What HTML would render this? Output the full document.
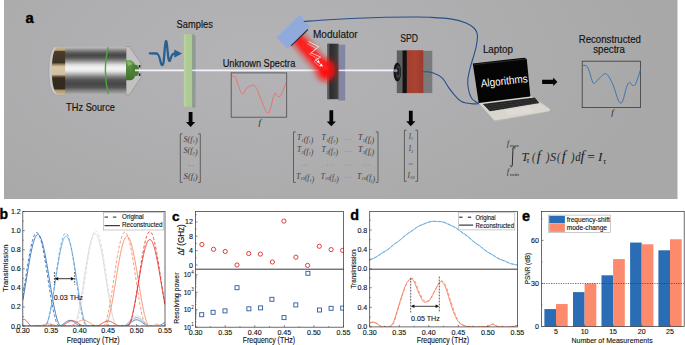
<!DOCTYPE html>
<html><head><meta charset="utf-8"><style>
html,body{margin:0;padding:0;background:#fff;}
body{width:685px;height:345px;overflow:hidden;font-family:"Liberation Sans", sans-serif;}
svg{display:block;}
</style></head><body>
<svg width="685" height="345" viewBox="0 0 685 345">
<defs>
<radialGradient id="bg" cx="260" cy="60" r="400" gradientUnits="userSpaceOnUse" gradientTransform="translate(260 60) scale(1 0.5) translate(-260 -60)">
 <stop offset="0" stop-color="#b4b4b7"/>
 <stop offset="0.45" stop-color="#afafb1"/>
 <stop offset="1" stop-color="#a8a8a8"/>
</radialGradient>
<linearGradient id="silver" x1="0" y1="0" x2="0" y2="1">
 <stop offset="0" stop-color="#c0c0c0"/>
 <stop offset="0.036" stop-color="#a8a8a8"/>
 <stop offset="0.088" stop-color="#7a7a7a"/>
 <stop offset="0.141" stop-color="#545454"/>
 <stop offset="0.183" stop-color="#4a4a4a"/>
 <stop offset="0.225" stop-color="#555555"/>
 <stop offset="0.277" stop-color="#7c7c7c"/>
 <stop offset="0.33" stop-color="#b0b0b0"/>
 <stop offset="0.382" stop-color="#e0e0e0"/>
 <stop offset="0.445" stop-color="#f4f4f4"/>
 <stop offset="0.508" stop-color="#e8e8e8"/>
 <stop offset="0.571" stop-color="#b4b4b4"/>
 <stop offset="0.634" stop-color="#7c7c7c"/>
 <stop offset="0.697" stop-color="#555555"/>
 <stop offset="0.782" stop-color="#464646"/>
 <stop offset="0.855" stop-color="#555555"/>
 <stop offset="0.918" stop-color="#808080"/>
 <stop offset="1" stop-color="#b0b0b0"/>
</linearGradient>
<linearGradient id="gold" x1="0" y1="0" x2="0" y2="1">
 <stop offset="0" stop-color="#cdb48a"/>
 <stop offset="0.07" stop-color="#c0a67c"/>
 <stop offset="0.1" stop-color="#4a3c2a"/>
 <stop offset="0.33" stop-color="#3e3222"/>
 <stop offset="0.38" stop-color="#a89470"/>
 <stop offset="0.42" stop-color="#d8c8a8"/>
 <stop offset="0.58" stop-color="#d0c0a0"/>
 <stop offset="0.63" stop-color="#5a4a36"/>
 <stop offset="0.66" stop-color="#352a1e"/>
 <stop offset="0.88" stop-color="#352a1e"/>
 <stop offset="0.92" stop-color="#b09a74"/>
 <stop offset="1" stop-color="#cdb48a"/>
</linearGradient>
<linearGradient id="cone" x1="0" y1="0" x2="0" y2="1">
 <stop offset="0" stop-color="#c8c8c8"/>
 <stop offset="0.5" stop-color="#d8d8d8"/>
 <stop offset="1" stop-color="#b4b4b4"/>
</linearGradient>
<linearGradient id="gtip" x1="0" y1="0" x2="0" y2="1">
 <stop offset="0" stop-color="#6a9c50"/>
 <stop offset="0.5" stop-color="#4f8738"/>
 <stop offset="1" stop-color="#3e6e2a"/>
</linearGradient>
<linearGradient id="modg" x1="0" y1="0" x2="1" y2="0">
 <stop offset="0" stop-color="#505050"/>
 <stop offset="0.25" stop-color="#2c2c2c"/>
 <stop offset="0.7" stop-color="#383838"/>
 <stop offset="1" stop-color="#484848"/>
</linearGradient>
<linearGradient id="spdr" x1="0" y1="0" x2="1" y2="0">
 <stop offset="0" stop-color="#a23d2e"/>
 <stop offset="0.5" stop-color="#aa4332"/>
 <stop offset="1" stop-color="#9e3a2c"/>
</linearGradient>
<filter id="blur1" x="-50%" y="-50%" width="200%" height="200%"><feGaussianBlur stdDeviation="1"/></filter>
<filter id="blur2" x="-50%" y="-50%" width="200%" height="200%"><feGaussianBlur stdDeviation="2"/></filter>
<filter id="blur3" x="-50%" y="-50%" width="200%" height="200%"><feGaussianBlur stdDeviation="3.2"/></filter>
<filter id="blur05" x="-50%" y="-50%" width="200%" height="200%"><feGaussianBlur stdDeviation="0.5"/></filter>
<radialGradient id="redglow" cx="0.5" cy="0.5" r="0.5">
 <stop offset="0" stop-color="#ff1010" stop-opacity="1"/>
 <stop offset="0.5" stop-color="#ff2020" stop-opacity="0.85"/>
 <stop offset="1" stop-color="#ff3030" stop-opacity="0"/>
</radialGradient>
</defs>
<rect x="4" y="0" width="673.5" height="199" fill="url(#bg)"/>
<text x="25.5" y="22.8" font-size="14.8" text-anchor="start" font-weight="bold" font-style="normal" fill="#000" font-family='"Liberation Sans", sans-serif' stroke="#000" stroke-width="0.4">a</text>
<path d="M126,46.5 L129.3,46.5 L140.9,63.1 L140.9,77.6 L129.3,94.8 L126,94.8 Z" fill="#c2c2c2" stroke="#7c7c7c" stroke-width="0.45"/>
<path d="M64.5,46.3 L56,46.3 C50.5,47.5 48.9,60 48.9,70.6 C48.9,81 50.5,93.6 56,94.9 L64.5,94.9 Z" fill="#c9c9c9" stroke="#8c8c8c" stroke-width="0.4"/>
<rect x="64" y="46.8" width="62.2" height="47.6" fill="url(#silver)"/>
<path d="M65.1,46.8 L58,46.8 C53.2,48.5 51.8,60 51.8,70.6 C51.8,81 53.2,92.7 58,94.4 L65.1,94.4 Z" fill="url(#gold)"/>
<path d="M108.3,47.2 C106.2,55 105.4,63 105.4,70.6 C105.4,78 106.2,86 108.3,94.2" fill="none" stroke="#4aa83a" stroke-width="1.4"/>
<path d="M126,60.2 L130.5,60.2 C133,60.8 134.6,63 135,65 L135,76 C134.6,78 133,80 130.5,80.3 L126,80.3 Z" fill="url(#gtip)"/>
<path d="M132.5,64.8 L136.5,64.8 C138,65.5 139,67.5 139,70.5 C139,73.5 138,75.5 136.5,76.1 L132.5,76.1 Z" fill="#4a7e34"/>
<path d="M127,61.5 C129,61 131.5,62 132.5,64 L128,66 Z" fill="#8cc070" opacity="0.8"/>
<rect x="138.8" y="65" width="1.5" height="2.6" fill="#1a2030"/>
<rect x="138.8" y="73.4" width="1.5" height="2.6" fill="#1a2030"/>
<line x1="135" y1="70.4" x2="396" y2="70.4" stroke="#c8ccf0" stroke-width="3.4" opacity="0.7" filter="url(#blur05)"/>
<line x1="135" y1="70.4" x2="396" y2="70.4" stroke="#f2f3ff" stroke-width="1.7"/>
<text x="66.1" y="111" font-size="10.5" text-anchor="start" font-weight="normal" font-style="normal" fill="#111" font-family='"Liberation Sans", sans-serif' textLength="48.9" lengthAdjust="spacingAndGlyphs" stroke="#111" stroke-width="0.15">THz Source</text>
<path d="M149.8,53.3 L157,53.5 C158.5,54 159.8,58 160.8,62.5 C161.6,66 162.8,66.2 163.6,62 C164.4,56 164.9,42 165.9,41 C166.9,40.5 167.4,50 168.2,57 C168.8,61.5 169.6,62.2 170.5,59 C171.3,56 172,54 174,53.6 L177,53.6" fill="none" stroke="#2a5f94" stroke-width="2.3" stroke-linejoin="round" stroke-linecap="round"/>
<path d="M174.3,49.6 L182,53.6 L174.3,57.8 Z" fill="#2a5f94"/>
<polygon points="191.9,34.3 194,34.6 195.3,35.8 195.3,107.6 193,107.8 191.9,106.7" fill="#90a086"/>
<rect x="194.4" y="35.8" width="0.9" height="71.8" fill="#8a94a8"/>
<rect x="183.9" y="34.3" width="8" height="72.4" fill="#afcb95"/>
<rect x="183.9" y="34.3" width="2" height="72.4" fill="#b8d2a0"/>
<line x1="192.2" y1="70.4" x2="196" y2="70.4" stroke="#eef0ff" stroke-width="1.5"/>
<text x="176.6" y="28.1" font-size="10.6" text-anchor="start" font-weight="normal" font-style="normal" fill="#111" font-family='"Liberation Sans", sans-serif' textLength="36.2" lengthAdjust="spacingAndGlyphs" stroke="#111" stroke-width="0.15">Samples</text>
<text x="222.7" y="66.7" font-size="10.4" text-anchor="start" font-weight="normal" font-style="normal" fill="#111" font-family='"Liberation Sans", sans-serif' textLength="72.6" lengthAdjust="spacingAndGlyphs" stroke="#111" stroke-width="0.15">Unknown Spectra</text>
<rect x="231.2" y="72.9" width="55.5" height="44.3" fill="none" stroke="#4a4a4a" stroke-width="0.8"/>
<path d="M232.26,76.32 C232.77,76.49 234.29,75.81 235.30,77.34 C236.32,78.86 237.17,82.68 238.35,85.46 C239.53,88.23 241.06,93.48 242.41,93.98 C243.76,94.49 245.12,89.86 246.47,88.50 C247.83,87.15 249.35,86.44 250.53,85.86 C251.72,85.29 252.56,84.61 253.58,85.05 C254.59,85.49 255.44,86.24 256.62,88.50 C257.81,90.77 259.33,95.27 260.69,98.65 C262.04,102.04 263.63,106.44 264.75,108.81 C265.86,111.18 266.47,112.70 267.39,112.87 C268.30,113.04 269.31,112.19 270.23,109.82 C271.14,107.45 272.09,101.43 272.87,98.65 C273.65,95.88 274.22,93.68 274.90,93.17 C275.58,92.66 276.08,95.03 276.93,95.61 C277.77,96.18 278.96,97.47 279.97,96.62 C280.99,95.78 282.01,92.90 283.02,90.53 C284.04,88.16 285.56,83.76 286.07,82.41" fill="none" stroke="#f06a6a" stroke-width="0.9"/>
<text x="259.7" y="124.5" font-size="9" text-anchor="middle" font-weight="normal" font-style="italic" fill="#222" font-family='"Liberation Serif", serif' >f</text>
<rect x="338.4" y="44.7" width="6.8" height="55.8" fill="#7e82a0" opacity="0.9"/>
<rect x="327.4" y="43.7" width="11.2" height="55.5" fill="url(#modg)"/>
<rect x="327.4" y="43.7" width="1.8" height="55.5" fill="#5c5c5c"/>
<line x1="338.6" y1="70.4" x2="346" y2="70.4" stroke="#eef0ff" stroke-width="1.5"/>
<g filter="url(#blur3)"><line x1="298" y1="39" x2="324" y2="69" stroke="#ff1818" stroke-width="13" stroke-linecap="round"/><ellipse cx="326" cy="70" rx="9.5" ry="11" fill="#ff1010"/></g>
<g filter="url(#blur1)"><line x1="304" y1="45" x2="325" y2="68" stroke="#ff2020" stroke-width="6" stroke-linecap="round"/></g>
<path d="M308.5,41.5 L318.9,46.7 L311.1,52.8 L320.7,57.2 L315.4,59.8 L322.4,65.9" fill="none" stroke="#ffffff" stroke-width="0.7" stroke-linejoin="miter"/>
<path d="M307,43.5 L316.5,48.5 L309.5,54 L318.5,59 L314,61.5 L320.5,67" fill="none" stroke="#ffecec" stroke-width="0.55" opacity="0.9"/>
<path d="M322.9,66.6 L319.4,65.9 L321.6,63.4 Z M319.8,62.6 L316.8,62.2 L318.6,59.9 Z" fill="#fff"/>
<polygon points="299.4,15 310.3,26.5 287.4,49.1 276.5,37.6" fill="#90aadc"/>
<line x1="307.9" y1="29.5" x2="291.1" y2="45.8" stroke="#2a2f38" stroke-width="1.1"/>
<text x="313" y="38.0" font-size="10.6" text-anchor="start" font-weight="normal" font-style="normal" fill="#111" font-family='"Liberation Sans", sans-serif' textLength="44.7" lengthAdjust="spacingAndGlyphs" stroke="#111" stroke-width="0.15">Modulator</text>
<rect x="423" y="50.8" width="9.3" height="42.3" fill="#7a7a7c"/>
<rect x="396.8" y="50.4" width="5.8" height="42.7" fill="#606060"/>
<rect x="402.4" y="50.4" width="4.6" height="42.7" fill="#121212"/>
<rect x="406.8" y="50.2" width="16.5" height="42.9" fill="url(#spdr)"/>
<ellipse cx="397.3" cy="72" rx="3.8" ry="9.6" fill="#141414"/>
<ellipse cx="398.2" cy="72" rx="2.4" ry="6.8" fill="#3a3a3e"/>
<ellipse cx="397.8" cy="71.5" rx="1.4" ry="3.8" fill="#1a1a22"/>
<ellipse cx="395.5" cy="70.6" rx="2.2" ry="1.6" fill="#c8d0ff" opacity="0.6" filter="url(#blur05)"/>
<text x="400.3" y="41.8" font-size="10.2" text-anchor="start" font-weight="normal" font-style="normal" fill="#111" font-family='"Liberation Sans", sans-serif' textLength="17.7" lengthAdjust="spacingAndGlyphs" stroke="#111" stroke-width="0.15">SPD</text>
<path d="M303.80,21.50 C307.92,21.22 319.63,20.33 328.50,19.80 C337.37,19.27 347.52,18.72 357.00,18.30 C366.48,17.88 375.92,17.52 385.40,17.30 C394.88,17.08 406.47,17.00 413.90,17.00 C421.33,17.00 423.65,16.95 430.00,17.30 C436.35,17.65 446.00,18.15 452.00,19.10 C458.00,20.05 462.25,21.43 466.00,23.00 C469.75,24.57 472.60,26.50 474.50,28.50 C476.40,30.50 477.07,32.25 477.40,35.00 C477.73,37.75 477.03,41.80 476.50,45.00 C475.97,48.20 475.22,50.53 474.20,54.20 C473.18,57.87 471.47,62.75 470.40,67.00 C469.33,71.25 468.10,75.87 467.80,79.70 C467.50,83.53 467.98,86.95 468.60,90.00 C469.22,93.05 470.27,96.00 471.50,98.00 C472.73,100.00 474.67,101.07 476.00,102.00 C477.33,102.93 478.92,103.33 479.50,103.60" fill="none" stroke="#26508a" stroke-width="1.1"/>
<path d="M423.20,71.70 C424.78,71.87 429.52,71.63 432.70,72.70 C435.88,73.77 439.63,75.62 442.30,78.10 C444.97,80.58 446.58,84.68 448.70,87.60 C450.82,90.52 452.88,93.30 455.00,95.60 C457.12,97.90 458.73,100.07 461.40,101.40 C464.07,102.73 467.98,103.20 471.00,103.60 C474.02,104.00 478.08,103.77 479.50,103.80" fill="none" stroke="#26508a" stroke-width="1.1"/>
<path d="M188.7,111.9 L192.5,111.9 L192.5,122.0 L195.2,122.0 L190.6,126.9 L186.0,122.0 L188.7,122.0 Z" fill="#050505"/>
<path d="M329.40000000000003,110.3 L333.2,110.3 L333.2,121.39999999999999 L335.90000000000003,121.39999999999999 L331.3,126.3 L326.7,121.39999999999999 L329.40000000000003,121.39999999999999 Z" fill="#050505"/>
<path d="M408.90000000000003,110.8 L412.7,110.8 L412.7,121.3 L415.40000000000003,121.3 L410.8,126.2 L406.2,121.3 L408.90000000000003,121.3 Z" fill="#050505"/>
<path d="M182.5,133.9 L180.3,133.9 L180.3,182.4 L182.5,182.4 M198.10000000000002,133.9 L200.3,133.9 L200.3,182.4 L198.10000000000002,182.4" fill="none" stroke="#4a4a4a" stroke-width="0.8" stroke-linejoin="miter" stroke-linecap="butt"/>
<text x="190.60" y="141.50" text-anchor="middle" font-style="italic" fill="#3c3c3c" font-family='"Liberation Serif", serif' textLength="14" lengthAdjust="spacingAndGlyphs"><tspan font-size="7.6">S(f</tspan><tspan font-size="4.71" dy="1.52">1</tspan><tspan dy="-1.52"></tspan><tspan font-size="7.6">)</tspan></text>
<text x="190.60" y="153.30" text-anchor="middle" font-style="italic" fill="#3c3c3c" font-family='"Liberation Serif", serif' textLength="14" lengthAdjust="spacingAndGlyphs"><tspan font-size="7.6">S(f</tspan><tspan font-size="4.71" dy="1.52">2</tspan><tspan dy="-1.52"></tspan><tspan font-size="7.6">)</tspan></text>
<text x="190.60" y="178.50" text-anchor="middle" font-style="italic" fill="#3c3c3c" font-family='"Liberation Serif", serif' textLength="14" lengthAdjust="spacingAndGlyphs"><tspan font-size="7.6">S(f</tspan><tspan font-size="4.71" dy="1.52">j</tspan><tspan dy="-1.52"></tspan><tspan font-size="7.6">)</tspan></text>
<circle cx="188.20" cy="165.60" r="0.32" fill="#3c3c3c"/><circle cx="190.60" cy="165.60" r="0.32" fill="#3c3c3c"/><circle cx="193.00" cy="165.60" r="0.32" fill="#3c3c3c"/>
<path d="M295.7,131.9 L293.5,131.9 L293.5,182.4 L295.7,182.4 M375.8,131.9 L378,131.9 L378,182.4 L375.8,182.4" fill="none" stroke="#4a4a4a" stroke-width="0.8" stroke-linejoin="miter" stroke-linecap="butt"/>
<text x="305.20" y="140.20" text-anchor="middle" font-style="italic" fill="#3c3c3c" font-family='"Liberation Serif", serif' textLength="16.4" lengthAdjust="spacingAndGlyphs"><tspan font-size="7.8">T</tspan><tspan font-size="4.84" dy="1.56">1</tspan><tspan dy="-1.56"></tspan><tspan font-size="7.8">(f</tspan><tspan font-size="4.84" dy="1.56">1</tspan><tspan dy="-1.56"></tspan><tspan font-size="7.8">)</tspan></text>
<text x="329.80" y="140.20" text-anchor="middle" font-style="italic" fill="#3c3c3c" font-family='"Liberation Serif", serif' textLength="16.4" lengthAdjust="spacingAndGlyphs"><tspan font-size="7.8">T</tspan><tspan font-size="4.84" dy="1.56">1</tspan><tspan dy="-1.56"></tspan><tspan font-size="7.8">(f</tspan><tspan font-size="4.84" dy="1.56">2</tspan><tspan dy="-1.56"></tspan><tspan font-size="7.8">)</tspan></text>
<circle cx="345.40" cy="139.40" r="0.32" fill="#3c3c3c"/><circle cx="348.20" cy="139.40" r="0.32" fill="#3c3c3c"/><circle cx="351.00" cy="139.40" r="0.32" fill="#3c3c3c"/>
<text x="366.10" y="140.20" text-anchor="middle" font-style="italic" fill="#3c3c3c" font-family='"Liberation Serif", serif' textLength="16.4" lengthAdjust="spacingAndGlyphs"><tspan font-size="7.8">T</tspan><tspan font-size="4.84" dy="1.56">1</tspan><tspan dy="-1.56"></tspan><tspan font-size="7.8">(f</tspan><tspan font-size="4.84" dy="1.56">j</tspan><tspan dy="-1.56"></tspan><tspan font-size="7.8">)</tspan></text>
<text x="305.20" y="152.30" text-anchor="middle" font-style="italic" fill="#3c3c3c" font-family='"Liberation Serif", serif' textLength="16.4" lengthAdjust="spacingAndGlyphs"><tspan font-size="7.8">T</tspan><tspan font-size="4.84" dy="1.56">2</tspan><tspan dy="-1.56"></tspan><tspan font-size="7.8">(f</tspan><tspan font-size="4.84" dy="1.56">1</tspan><tspan dy="-1.56"></tspan><tspan font-size="7.8">)</tspan></text>
<text x="329.80" y="152.30" text-anchor="middle" font-style="italic" fill="#3c3c3c" font-family='"Liberation Serif", serif' textLength="16.4" lengthAdjust="spacingAndGlyphs"><tspan font-size="7.8">T</tspan><tspan font-size="4.84" dy="1.56">2</tspan><tspan dy="-1.56"></tspan><tspan font-size="7.8">(f</tspan><tspan font-size="4.84" dy="1.56">2</tspan><tspan dy="-1.56"></tspan><tspan font-size="7.8">)</tspan></text>
<circle cx="345.40" cy="151.50" r="0.32" fill="#3c3c3c"/><circle cx="348.20" cy="151.50" r="0.32" fill="#3c3c3c"/><circle cx="351.00" cy="151.50" r="0.32" fill="#3c3c3c"/>
<text x="366.10" y="152.30" text-anchor="middle" font-style="italic" fill="#3c3c3c" font-family='"Liberation Serif", serif' textLength="16.4" lengthAdjust="spacingAndGlyphs"><tspan font-size="7.8">T</tspan><tspan font-size="4.84" dy="1.56">2</tspan><tspan dy="-1.56"></tspan><tspan font-size="7.8">(f</tspan><tspan font-size="4.84" dy="1.56">j</tspan><tspan dy="-1.56"></tspan><tspan font-size="7.8">)</tspan></text>
<text x="305.20" y="178.50" text-anchor="middle" font-style="italic" fill="#3c3c3c" font-family='"Liberation Serif", serif' textLength="18" lengthAdjust="spacingAndGlyphs"><tspan font-size="7.8">T</tspan><tspan font-size="4.84" dy="1.56">10</tspan><tspan dy="-1.56"></tspan><tspan font-size="7.8">(f</tspan><tspan font-size="4.84" dy="1.56">1</tspan><tspan dy="-1.56"></tspan><tspan font-size="7.8">)</tspan></text>
<text x="329.80" y="178.50" text-anchor="middle" font-style="italic" fill="#3c3c3c" font-family='"Liberation Serif", serif' textLength="18" lengthAdjust="spacingAndGlyphs"><tspan font-size="7.8">T</tspan><tspan font-size="4.84" dy="1.56">10</tspan><tspan dy="-1.56"></tspan><tspan font-size="7.8">(f</tspan><tspan font-size="4.84" dy="1.56">2</tspan><tspan dy="-1.56"></tspan><tspan font-size="7.8">)</tspan></text>
<circle cx="345.40" cy="177.70" r="0.32" fill="#3c3c3c"/><circle cx="348.20" cy="177.70" r="0.32" fill="#3c3c3c"/><circle cx="351.00" cy="177.70" r="0.32" fill="#3c3c3c"/>
<text x="366.10" y="178.50" text-anchor="middle" font-style="italic" fill="#3c3c3c" font-family='"Liberation Serif", serif' textLength="18" lengthAdjust="spacingAndGlyphs"><tspan font-size="7.8">T</tspan><tspan font-size="4.84" dy="1.56">10</tspan><tspan dy="-1.56"></tspan><tspan font-size="7.8">(f</tspan><tspan font-size="4.84" dy="1.56">j</tspan><tspan dy="-1.56"></tspan><tspan font-size="7.8">)</tspan></text>
<circle cx="302.80" cy="165.00" r="0.32" fill="#3c3c3c"/><circle cx="305.20" cy="165.00" r="0.32" fill="#3c3c3c"/><circle cx="307.60" cy="165.00" r="0.32" fill="#3c3c3c"/>
<circle cx="327.40" cy="165.00" r="0.32" fill="#3c3c3c"/><circle cx="329.80" cy="165.00" r="0.32" fill="#3c3c3c"/><circle cx="332.20" cy="165.00" r="0.32" fill="#3c3c3c"/>
<circle cx="345.80" cy="165.00" r="0.32" fill="#3c3c3c"/><circle cx="348.20" cy="165.00" r="0.32" fill="#3c3c3c"/><circle cx="350.60" cy="165.00" r="0.32" fill="#3c3c3c"/>
<circle cx="363.70" cy="165.00" r="0.32" fill="#3c3c3c"/><circle cx="366.10" cy="165.00" r="0.32" fill="#3c3c3c"/><circle cx="368.50" cy="165.00" r="0.32" fill="#3c3c3c"/>
<path d="M406.59999999999997,130.2 L404.4,130.2 L404.4,181.3 L406.59999999999997,181.3 M415.40000000000003,130.2 L417.6,130.2 L417.6,181.3 L415.40000000000003,181.3" fill="none" stroke="#4a4a4a" stroke-width="0.8" stroke-linejoin="miter" stroke-linecap="butt"/>
<text x="411.00" y="138.90" text-anchor="middle" font-style="italic" fill="#3c3c3c" font-family='"Liberation Serif", serif' textLength="4.4" lengthAdjust="spacingAndGlyphs"><tspan font-size="7.6">I</tspan><tspan font-size="4.71" dy="1.52">1</tspan><tspan dy="-1.52"></tspan></text>
<text x="411.00" y="151.00" text-anchor="middle" font-style="italic" fill="#3c3c3c" font-family='"Liberation Serif", serif' textLength="4.4" lengthAdjust="spacingAndGlyphs"><tspan font-size="7.6">I</tspan><tspan font-size="4.71" dy="1.52">2</tspan><tspan dy="-1.52"></tspan></text>
<text x="411.00" y="177.90" text-anchor="middle" font-style="italic" fill="#3c3c3c" font-family='"Liberation Serif", serif' textLength="7" lengthAdjust="spacingAndGlyphs"><tspan font-size="7.6">I</tspan><tspan font-size="4.71" dy="1.52">10</tspan><tspan dy="-1.52"></tspan></text>
<line x1="408.6" y1="164" x2="412.8" y2="164" stroke="#3c3c3c" stroke-width="0.5"/>
<path d="M514.9,148.3 C514.6,146.6 513.4,146.5 513,148.2 L512.3,165 C512,167.3 510.8,167.3 510.4,165.6" fill="none" stroke="#151515" stroke-width="0.85" stroke-linecap="round"/>
<text x="507.10" y="145.70" font-size="7.2" font-style="italic" fill="#151515" font-family='"Liberation Serif", serif' >f</text><text x="510.10" y="147.40" font-size="4.6" font-style="italic" fill="#151515" font-family='"Liberation Serif", serif' textLength="8.6" lengthAdjust="spacingAndGlyphs">max</text>
<text x="507.10" y="173.70" font-size="7.2" font-style="italic" fill="#151515" font-family='"Liberation Serif", serif' >f</text><text x="510.10" y="175.60" font-size="4.6" font-style="italic" fill="#151515" font-family='"Liberation Serif", serif' textLength="9" lengthAdjust="spacingAndGlyphs">min</text>
<text x="0" y="0" font-size="12.7" font-style="italic" fill="#222" font-family='"Liberation Serif", serif' transform="translate(521.38,160.60) scale(0.988,1)">T</text>
<text x="0" y="0" font-size="12.7" font-style="italic" fill="#222" font-family='"Liberation Serif", serif' transform="translate(532.04,160.60) scale(0.812,1)">(</text>
<text x="0" y="0" font-size="12.7" font-style="italic" fill="#222" font-family='"Liberation Serif", serif' transform="translate(545.90,160.60) scale(0.835,1)">)</text>
<text x="0" y="0" font-size="12.7" font-style="italic" fill="#222" font-family='"Liberation Serif", serif' transform="translate(549.95,160.60) scale(0.968,1)">S</text>
<text x="0" y="0" font-size="12.7" font-style="italic" fill="#222" font-family='"Liberation Serif", serif' transform="translate(557.05,160.60) scale(0.790,1)">(</text>
<text x="0" y="0" font-size="12.7" font-style="italic" fill="#222" font-family='"Liberation Serif", serif' transform="translate(570.90,160.60) scale(0.835,1)">)</text>
<text x="0" y="0" font-size="12.7" font-style="italic" fill="#222" font-family='"Liberation Serif", serif' transform="translate(575.18,160.60) scale(0.851,1)">d</text>
<text x="0" y="0" font-size="12.7" font-style="italic" fill="#222" font-family='"Liberation Serif", serif' transform="translate(598.05,160.60) scale(1.068,1)">I</text>
<text x="536.72" y="160.6" font-size="14.5" font-style="italic" fill="#222" font-family='"Liberation Serif", serif'>f</text>
<text x="561.72" y="160.6" font-size="14.5" font-style="italic" fill="#222" font-family='"Liberation Serif", serif'>f</text>
<text x="580.42" y="160.6" font-size="14.5" font-style="italic" fill="#222" font-family='"Liberation Serif", serif'>f</text>
<text x="587.2" y="160.6" font-size="12.7" fill="#151515" font-family='"Liberation Serif", serif' textLength="7.6" lengthAdjust="spacingAndGlyphs">=</text>
<text x="526.40" y="163.40" font-size="7.6" font-style="italic" fill="#151515" font-family='"Liberation Serif", serif' >τ</text>
<text x="603.20" y="163.50" font-size="7.6" font-style="italic" fill="#151515" font-family='"Liberation Serif", serif' >τ</text>
<text x="482.9" y="53.1" font-size="10.3" text-anchor="start" font-weight="normal" font-style="normal" fill="#111" font-family='"Liberation Sans", sans-serif' textLength="30.1" lengthAdjust="spacingAndGlyphs" stroke="#111" stroke-width="0.15">Laptop</text>
<polygon points="478.7,103.1 531.2,96.1 550.5,109.5 549.5,111.8 495,122 494.4,120.6" fill="#b8b4ae"/>
<polygon points="478.7,103.1 531.2,96.1 550.5,109.5 548.7,111.3 494.4,120.6" fill="#d9d5cf"/>
<polygon points="482.8,103.9 534.7,97.4 539.4,103.1 489.8,111.3" fill="#262626"/>
<path d="M484.6,105.9 L536,99.3 M486.4,107.8 L537.4,101.2 M488.1,109.6 L538.6,102.9" stroke="#4a4a4a" stroke-width="0.45"/>
<path d="M488.0,104.00 L494.5,110.70 M492.6,103.42 L499.1,109.80 M497.2,102.84 L503.7,108.90 M501.8,102.26 L508.3,108.00 M506.4,101.68 L512.9,107.10 M511.0,101.10 L517.5,106.20 M515.6,100.52 L522.1,105.30 M520.2,99.94 L526.7,104.40 M524.8,99.36 L531.3,103.50 M529.4,98.78 L535.9,102.60" stroke="#1a1a1a" stroke-width="0.4"/>
<polygon points="505,109.5 530,106.6 533.6,112.2 507.9,115.6" fill="#e0dcd6" opacity="0.7"/>
<polygon points="472.8,63.4 524.5,57.7 526.8,59.2 530.4,96.4 478.7,103.1" fill="#050505"/>
<polygon points="473.8,64 526,58.5 526.5,59.5 474.3,65" fill="#2a2a2a"/>
<text x="0" y="0" font-size="11" fill="#ffffff" font-family='"Liberation Sans", sans-serif' transform="translate(481.2,87.2) rotate(-6.2)" textLength="47" lengthAdjust="spacingAndGlyphs">Algorithms</text>
<path d="M542.1,79.8 L553.2,79.8 L553.2,77.6 L557.4,81.9 L553.2,86.1 L553.2,83.9 L542.1,83.9 Z" fill="#050505"/>
<text x="578.7" y="42.5" font-size="10.5" text-anchor="start" font-weight="normal" font-style="normal" fill="#111" font-family='"Liberation Sans", sans-serif' textLength="62.3" lengthAdjust="spacingAndGlyphs" stroke="#111" stroke-width="0.15">Reconstructed</text>
<text x="593.2" y="52.8" font-size="10.5" text-anchor="start" font-weight="normal" font-style="normal" fill="#111" font-family='"Liberation Sans", sans-serif' textLength="31.8" lengthAdjust="spacingAndGlyphs" stroke="#111" stroke-width="0.15">spectra</text>
<rect x="582.2" y="61.2" width="58.2" height="46.4" fill="none" stroke="#3a3a3a" stroke-width="0.8"/>
<path d="M582.46,65.58 C583.04,65.58 584.88,64.86 585.94,65.58 C587.00,66.30 587.63,67.03 588.84,69.93 C590.05,72.83 591.74,81.28 593.19,82.97 C594.64,84.66 596.09,81.28 597.54,80.07 C598.99,78.86 600.58,76.79 601.88,75.72 C603.19,74.66 604.15,73.45 605.36,73.70 C606.57,73.94 607.78,75.14 609.13,77.17 C610.48,79.20 612.13,82.49 613.48,85.87 C614.83,89.25 616.18,94.66 617.25,97.46 C618.31,100.27 618.94,102.10 619.86,102.68 C620.77,103.26 621.64,103.50 622.75,100.94 C623.86,98.38 625.41,90.41 626.52,87.32 C627.63,84.23 628.45,82.73 629.42,82.39 C630.39,82.05 631.35,84.95 632.32,85.29 C633.29,85.63 634.25,85.77 635.22,84.42 C636.18,83.07 637.25,79.59 638.12,77.17 C638.99,74.76 640.05,71.14 640.43,69.93" fill="none" stroke="#2f6fb6" stroke-width="0.9"/>
<text x="612.6" y="115.2" font-size="9" text-anchor="middle" font-weight="normal" font-style="italic" fill="#222" font-family='"Liberation Serif", serif' >f</text>
<text x="-0.6" y="218.5" font-size="14" text-anchor="start" font-weight="bold" font-style="normal" fill="#000" font-family='"Liberation Sans", sans-serif' stroke="#000" stroke-width="0.35">b</text>
<clipPath id="cpb"><rect x="22.8" y="211.6" width="142.2" height="114.50000000000003"/></clipPath>
<g clip-path="url(#cpb)">
<path d="M22.80,296.02 L23.08,294.27 L23.37,292.51 L23.65,290.72 L23.94,288.92 L24.22,287.10 L24.51,285.27 L24.79,283.43 L25.08,281.59 L25.36,279.74 L25.65,277.89 L25.93,276.04 L26.22,274.20 L26.50,272.36 L26.79,270.54 L27.07,268.73 L27.36,266.94 L27.64,265.16 L27.93,263.41 L28.21,261.68 L28.50,259.98 L28.78,258.32 L29.07,256.68 L29.35,255.08 L29.64,253.52 L29.92,252.00 L30.21,250.52 L30.49,249.08 L30.78,247.70 L31.06,246.36 L31.35,245.07 L31.63,243.84 L31.92,242.67 L32.20,241.55 L32.49,240.49 L32.77,239.49 L33.06,238.56 L33.34,237.68 L33.63,236.88 L33.91,236.14 L34.20,235.46 L34.48,234.86 L34.77,234.33 L35.05,233.86 L35.34,233.47 L35.62,233.15 L35.91,232.90 L36.19,232.72 L36.48,232.62 L36.76,232.59 L37.05,232.64 L37.33,232.75 L37.62,232.94 L37.90,233.21 L38.19,233.54 L38.47,233.95 L38.76,234.42 L39.04,234.97 L39.33,235.59 L39.61,236.28 L39.90,237.03 L40.18,237.85 L40.47,238.73 L40.75,239.68 L41.04,240.69 L41.32,241.76 L41.61,242.89 L41.89,244.08 L42.18,245.32 L42.46,246.62 L42.75,247.96 L43.03,249.36 L43.32,250.80 L43.60,252.29 L43.89,253.82 L44.17,255.39 L44.46,257.00 L44.74,258.64 L45.03,260.32 L45.31,262.02 L45.60,263.75 L45.88,265.51 L46.17,267.29 L46.45,269.08 L46.74,270.89 L47.02,272.72 L47.31,274.56 L47.59,276.40 L47.88,278.25 L48.16,280.10 L48.45,281.95 L48.73,283.79 L49.02,285.63 L49.30,287.46 L49.59,289.28 L49.87,291.08 L50.16,292.86 L50.44,294.62 L50.73,296.35 L51.01,298.06 L51.30,299.74 L51.58,301.39 L51.87,303.01 L52.15,304.58 L52.44,306.12 L52.72,307.62 L53.01,309.07 L53.29,310.47 L53.58,311.83 L53.86,313.13 L54.15,314.39 L54.43,315.58 L54.72,316.72 L55.00,317.81 L55.29,318.83 L55.57,319.79 L55.86,320.68 L56.14,321.52 L56.43,322.28 L56.71,322.98 L57.00,323.61 L57.28,324.17 L57.57,324.66 L57.85,325.08 L58.14,325.43 L58.42,325.71 L58.71,325.91 L58.99,326.04 L59.28,326.10 L59.56,326.10 L59.85,326.10 L60.13,326.10 L60.42,326.10 L60.70,326.10 L60.99,326.10 L61.27,326.10 L61.56,326.10 L61.84,326.10 L62.13,326.10 L62.41,326.10 L62.70,326.10 L62.98,326.10 L63.27,326.10 L63.55,326.10 L63.84,326.10 L64.12,326.10 L64.41,326.10 L64.69,326.10 L64.98,326.10 L65.26,326.10 L65.55,326.10 L65.83,326.10 L66.12,326.10 L66.40,326.10 L66.69,326.10 L66.97,326.10 L67.26,326.10 L67.54,326.10 L67.83,326.10 L68.11,326.10 L68.40,326.10 L68.68,326.10 L68.97,326.10 L69.25,326.10 L69.54,326.10 L69.82,326.10 L70.11,326.10 L70.39,326.10 L70.67,326.10 L70.96,326.10 L71.24,326.10 L71.53,326.10 L71.81,326.10 L72.10,326.10 L72.38,326.10 L72.67,326.10 L72.95,326.10 L73.24,326.10 L73.52,326.10 L73.81,326.10 L74.09,326.10 L74.38,326.10 L74.66,326.10 L74.95,326.10 L75.23,326.10 L75.52,326.10 L75.80,326.10 L76.09,326.10 L76.37,326.10 L76.66,326.10 L76.94,326.10 L77.23,326.10 L77.51,326.10 L77.80,326.10 L78.08,326.10 L78.37,326.10 L78.65,326.10 L78.94,326.10 L79.22,326.10 L79.51,326.10 L79.79,326.10 L80.08,326.10 L80.36,326.10 L80.65,326.10 L80.93,326.10 L81.22,326.10 L81.50,326.10 L81.79,326.10 L82.07,326.10 L82.36,326.10 L82.64,326.10 L82.93,326.10 L83.21,326.10 L83.50,326.10 L83.78,326.10 L84.07,326.10 L84.35,326.10 L84.64,326.10 L84.92,326.10 L85.21,326.10 L85.49,326.10 L85.78,326.10 L86.06,326.10 L86.35,326.10 L86.63,326.10 L86.92,326.10 L87.20,326.10 L87.49,326.10 L87.77,326.10 L88.06,326.10 L88.34,326.10 L88.63,326.10 L88.91,326.10 L89.20,326.10 L89.48,326.10 L89.77,326.10 L90.05,326.10 L90.34,326.10 L90.62,326.10 L90.91,326.10 L91.19,326.10 L91.48,326.10 L91.76,326.10 L92.05,326.10 L92.33,326.10 L92.62,326.10 L92.90,326.10 L93.19,326.10 L93.47,326.10 L93.76,326.10 L94.04,326.10 L94.33,326.10 L94.61,326.10 L94.90,326.10 L95.18,326.10 L95.47,326.10 L95.75,326.10 L96.04,326.10 L96.32,326.10 L96.61,326.10 L96.89,326.10 L97.18,326.10 L97.46,326.10 L97.75,326.10 L98.03,326.10 L98.32,326.10 L98.60,326.10 L98.89,326.10 L99.17,326.10 L99.46,326.10 L99.74,326.10 L100.03,326.10 L100.31,326.10 L100.60,326.10 L100.88,326.10 L101.17,326.10 L101.45,326.10 L101.74,326.10 L102.02,326.10 L102.31,326.10 L102.59,326.10 L102.88,326.10 L103.16,326.10 L103.45,326.10 L103.73,326.10 L104.02,326.10 L104.30,326.10 L104.59,326.10 L104.87,326.10 L105.16,326.10 L105.44,326.10 L105.73,326.10 L106.01,326.10 L106.30,326.10 L106.58,326.10 L106.87,326.10 L107.15,326.10 L107.44,326.10 L107.72,326.10 L108.01,326.10 L108.29,326.10 L108.58,326.10 L108.86,326.10 L109.15,326.10 L109.43,326.10 L109.72,326.10 L110.00,326.10 L110.29,326.10 L110.57,326.10 L110.86,326.10 L111.14,326.10 L111.43,326.10 L111.71,326.10 L112.00,326.10 L112.28,326.10 L112.57,326.10 L112.85,326.10 L113.14,326.10 L113.42,326.10 L113.71,326.10 L113.99,326.10 L114.28,326.10 L114.56,326.10 L114.85,326.10 L115.13,326.10 L115.42,326.10 L115.70,326.10 L115.99,326.10 L116.27,326.10 L116.56,326.10 L116.84,326.10 L117.13,326.10 L117.41,326.10 L117.69,326.10 L117.98,326.10 L118.26,326.10 L118.55,326.10 L118.83,326.10 L119.12,326.10 L119.40,326.10 L119.69,326.10 L119.97,326.10 L120.26,326.10 L120.54,326.10 L120.83,326.10 L121.11,326.10 L121.40,326.10 L121.68,326.10 L121.97,326.10 L122.25,326.10 L122.54,326.10 L122.82,326.10 L123.11,326.10 L123.39,326.10 L123.68,326.10 L123.96,326.10 L124.25,326.10 L124.53,326.10 L124.82,326.10 L125.10,326.10 L125.39,326.10 L125.67,326.10 L125.96,326.10 L126.24,326.10 L126.53,326.10 L126.81,326.10 L127.10,326.10 L127.38,326.10 L127.67,326.10 L127.95,326.10 L128.24,326.10 L128.52,326.10 L128.81,326.10 L129.09,326.10 L129.38,326.10 L129.66,326.10 L129.95,326.10 L130.23,326.10 L130.52,326.10 L130.80,326.10 L131.09,326.10 L131.37,326.10 L131.66,326.10 L131.94,326.10 L132.23,326.10 L132.51,326.10 L132.80,326.10 L133.08,326.10 L133.37,326.10 L133.65,326.10 L133.94,326.10 L134.22,326.10 L134.51,326.10 L134.79,326.10 L135.08,326.10 L135.36,326.10 L135.65,326.10 L135.93,326.10 L136.22,326.10 L136.50,326.10 L136.79,326.10 L137.07,326.10 L137.36,326.10 L137.64,326.10 L137.93,326.10 L138.21,326.10 L138.50,326.10 L138.78,326.10 L139.07,326.10 L139.35,326.10 L139.64,326.10 L139.92,326.10 L140.21,326.10 L140.49,326.10 L140.78,326.10 L141.06,326.10 L141.35,326.10 L141.63,326.10 L141.92,326.10 L142.20,326.10 L142.49,326.10 L142.77,326.10 L143.06,326.10 L143.34,326.10 L143.63,326.10 L143.91,326.10 L144.20,326.10 L144.48,326.10 L144.77,326.10 L145.05,326.10 L145.34,326.10 L145.62,326.10 L145.91,326.10 L146.19,326.10 L146.48,326.10 L146.76,326.10 L147.05,326.10 L147.33,326.10 L147.62,326.10 L147.90,326.10 L148.19,326.10 L148.47,326.10 L148.76,326.10 L149.04,326.10 L149.33,326.10 L149.61,326.10 L149.90,326.10 L150.18,326.10 L150.47,326.10 L150.75,326.10 L151.04,326.10 L151.32,326.10 L151.61,326.10 L151.89,326.10 L152.18,326.10 L152.46,326.10 L152.75,326.10 L153.03,326.10 L153.32,326.10 L153.60,326.10 L153.89,326.10 L154.17,326.10 L154.46,326.10 L154.74,326.10 L155.03,326.10 L155.31,326.10 L155.60,326.10 L155.88,326.10 L156.17,326.10 L156.45,326.10 L156.74,326.10 L157.02,326.10 L157.31,326.10 L157.59,326.10 L157.88,326.10 L158.16,326.10 L158.45,326.10 L158.73,326.10 L159.02,326.10 L159.30,326.10 L159.59,326.10 L159.87,326.10 L160.16,326.10 L160.44,326.10 L160.73,326.10 L161.01,326.10 L161.30,326.10 L161.58,326.10 L161.87,326.10 L162.15,326.10 L162.44,326.10 L162.72,326.10 L163.01,326.10 L163.29,326.10 L163.58,326.10 L163.86,326.10 L164.15,326.10 L164.43,326.10 L164.72,326.10 L165.00,326.10" fill="none" stroke="#2c6cb8" stroke-width="0.9" stroke-dasharray="3,2"/>
<path d="M22.80,300.62 L23.08,299.03 L23.37,297.41 L23.65,295.77 L23.94,294.11 L24.22,292.42 L24.51,290.72 L24.79,289.00 L25.08,287.26 L25.36,285.52 L25.65,283.77 L25.93,282.02 L26.22,280.26 L26.50,278.50 L26.79,276.74 L27.07,275.00 L27.36,273.25 L27.64,271.52 L27.93,269.80 L28.21,268.10 L28.50,266.41 L28.78,264.75 L29.07,263.11 L29.35,261.49 L29.64,259.90 L29.92,258.34 L30.21,256.82 L30.49,255.32 L30.78,253.87 L31.06,252.45 L31.35,251.08 L31.63,249.75 L31.92,248.46 L32.20,247.22 L32.49,246.03 L32.77,244.89 L33.06,243.80 L33.34,242.76 L33.63,241.78 L33.91,240.86 L34.20,240.00 L34.48,239.19 L34.77,238.45 L35.05,237.76 L35.34,237.14 L35.62,236.59 L35.91,236.09 L36.19,235.67 L36.48,235.31 L36.76,235.01 L37.05,234.78 L37.33,234.62 L37.62,234.53 L37.90,234.50 L38.19,234.54 L38.47,234.65 L38.76,234.83 L39.04,235.07 L39.33,235.38 L39.61,235.75 L39.90,236.19 L40.18,236.70 L40.47,237.27 L40.75,237.90 L41.04,238.60 L41.32,239.36 L41.61,240.18 L41.89,241.05 L42.18,241.99 L42.46,242.98 L42.75,244.03 L43.03,245.13 L43.32,246.28 L43.60,247.48 L43.89,248.73 L44.17,250.03 L44.46,251.37 L44.74,252.75 L45.03,254.18 L45.31,255.64 L45.60,257.14 L45.88,258.67 L46.17,260.24 L46.45,261.83 L46.74,263.45 L47.02,265.10 L47.31,266.77 L47.59,268.46 L47.88,270.17 L48.16,271.89 L48.45,273.62 L48.73,275.37 L49.02,277.12 L49.30,278.87 L49.59,280.63 L49.87,282.39 L50.16,284.14 L50.44,285.89 L50.73,287.63 L51.01,289.36 L51.30,291.08 L51.58,292.78 L51.87,294.46 L52.15,296.12 L52.44,297.76 L52.72,299.37 L53.01,300.96 L53.29,302.51 L53.58,304.03 L53.86,305.52 L54.15,306.97 L54.43,308.37 L54.72,309.74 L55.00,311.07 L55.29,312.35 L55.57,313.58 L55.86,314.76 L56.14,315.89 L56.43,316.97 L56.71,318.00 L57.00,318.97 L57.28,319.88 L57.57,320.74 L57.85,321.53 L58.14,322.27 L58.42,322.94 L58.71,323.55 L58.99,324.08 L59.28,324.54 L59.56,324.90 L59.85,325.19 L60.13,325.39 L60.42,325.51 L60.70,325.55 L60.99,325.50 L61.27,325.37 L61.56,325.22 L61.84,325.05 L62.13,324.87 L62.41,324.68 L62.70,324.48 L62.98,324.27 L63.27,324.06 L63.55,323.84 L63.84,323.62 L64.12,323.40 L64.41,323.17 L64.69,322.95 L64.98,322.72 L65.26,322.50 L65.55,322.29 L65.83,322.08 L66.12,321.88 L66.40,321.68 L66.69,321.50 L66.97,321.33 L67.26,321.16 L67.54,321.02 L67.83,320.88 L68.11,320.76 L68.40,320.66 L68.68,320.57 L68.97,320.49 L69.25,320.44 L69.54,320.40 L69.82,320.38 L70.11,320.38 L70.39,320.39 L70.67,320.42 L70.96,320.47 L71.24,320.54 L71.53,320.62 L71.81,320.72 L72.10,320.84 L72.38,320.97 L72.67,321.11 L72.95,321.27 L73.24,321.44 L73.52,321.62 L73.81,321.81 L74.09,322.01 L74.38,322.22 L74.66,322.43 L74.95,322.65 L75.23,322.87 L75.52,323.10 L75.80,323.32 L76.09,323.55 L76.37,323.77 L76.66,323.99 L76.94,324.20 L77.23,324.41 L77.51,324.61 L77.80,324.81 L78.08,324.99 L78.37,325.16 L78.65,325.32 L78.94,325.47 L79.22,325.60 L79.51,325.72 L79.79,325.83 L80.08,325.92 L80.36,325.99 L80.65,326.04 L80.93,326.08 L81.22,326.10 L81.50,326.10 L81.79,326.10 L82.07,326.10 L82.36,326.10 L82.64,326.10 L82.93,326.10 L83.21,326.10 L83.50,326.10 L83.78,326.10 L84.07,326.10 L84.35,326.10 L84.64,326.10 L84.92,326.10 L85.21,326.10 L85.49,326.10 L85.78,326.10 L86.06,326.10 L86.35,326.10 L86.63,326.10 L86.92,326.10 L87.20,326.10 L87.49,326.10 L87.77,326.10 L88.06,326.10 L88.34,326.10 L88.63,326.10 L88.91,326.10 L89.20,326.10 L89.48,326.10 L89.77,326.10 L90.05,326.10 L90.34,326.10 L90.62,326.10 L90.91,326.10 L91.19,326.10 L91.48,326.10 L91.76,326.10 L92.05,326.10 L92.33,326.10 L92.62,326.10 L92.90,326.10 L93.19,326.10 L93.47,326.10 L93.76,326.10 L94.04,326.10 L94.33,326.10 L94.61,326.10 L94.90,326.10 L95.18,326.10 L95.47,326.10 L95.75,326.10 L96.04,326.10 L96.32,326.10 L96.61,326.10 L96.89,326.10 L97.18,326.10 L97.46,326.10 L97.75,326.10 L98.03,326.10 L98.32,326.10 L98.60,326.10 L98.89,326.10 L99.17,326.10 L99.46,326.10 L99.74,326.10 L100.03,326.10 L100.31,326.10 L100.60,326.10 L100.88,326.10 L101.17,326.10 L101.45,326.10 L101.74,326.10 L102.02,326.10 L102.31,326.10 L102.59,326.10 L102.88,326.10 L103.16,326.10 L103.45,326.10 L103.73,326.10 L104.02,326.10 L104.30,326.10 L104.59,326.10 L104.87,326.10 L105.16,326.10 L105.44,326.10 L105.73,326.10 L106.01,326.10 L106.30,326.10 L106.58,326.10 L106.87,326.10 L107.15,326.10 L107.44,326.10 L107.72,326.10 L108.01,326.10 L108.29,326.10 L108.58,326.10 L108.86,326.10 L109.15,326.10 L109.43,326.10 L109.72,326.10 L110.00,326.10 L110.29,326.10 L110.57,326.10 L110.86,326.10 L111.14,326.10 L111.43,326.10 L111.71,326.10 L112.00,326.10 L112.28,326.10 L112.57,326.10 L112.85,326.10 L113.14,326.10 L113.42,326.10 L113.71,326.10 L113.99,326.10 L114.28,326.10 L114.56,326.10 L114.85,326.10 L115.13,326.10 L115.42,326.10 L115.70,326.10 L115.99,326.10 L116.27,326.10 L116.56,326.10 L116.84,326.10 L117.13,326.10 L117.41,326.10 L117.69,326.10 L117.98,326.10 L118.26,326.10 L118.55,326.10 L118.83,326.10 L119.12,326.10 L119.40,326.10 L119.69,326.10 L119.97,326.10 L120.26,326.10 L120.54,326.10 L120.83,326.10 L121.11,326.10 L121.40,326.10 L121.68,326.10 L121.97,326.10 L122.25,326.10 L122.54,326.10 L122.82,326.10 L123.11,326.10 L123.39,326.10 L123.68,326.10 L123.96,326.10 L124.25,326.10 L124.53,326.08 L124.82,326.04 L125.10,325.99 L125.39,325.92 L125.67,325.84 L125.96,325.74 L126.24,325.63 L126.53,325.51 L126.81,325.37 L127.10,325.22 L127.38,325.06 L127.67,324.89 L127.95,324.70 L128.24,324.51 L128.52,324.31 L128.81,324.11 L129.09,323.89 L129.38,323.68 L129.66,323.45 L129.95,323.23 L130.23,323.01 L130.52,322.78 L130.80,322.56 L131.09,322.33 L131.37,322.12 L131.66,321.90 L131.94,321.69 L132.23,321.49 L132.51,321.29 L132.80,321.11 L133.08,320.93 L133.37,320.76 L133.65,320.60 L133.94,320.46 L134.22,320.33 L134.51,320.21 L134.79,320.11 L135.08,320.02 L135.36,319.94 L135.65,319.88 L135.93,319.84 L136.22,319.81 L136.50,319.80 L136.79,319.81 L137.07,319.83 L137.36,319.87 L137.64,319.92 L137.93,319.99 L138.21,320.07 L138.50,320.17 L138.78,320.28 L139.07,320.41 L139.35,320.55 L139.64,320.70 L139.92,320.86 L140.21,321.03 L140.49,321.22 L140.78,321.41 L141.06,321.61 L141.35,321.82 L141.63,322.03 L141.92,322.25 L142.20,322.47 L142.49,322.69 L142.77,322.92 L143.06,323.14 L143.34,323.37 L143.63,323.59 L143.91,323.81 L144.20,324.02 L144.48,324.23 L144.77,324.43 L145.05,324.63 L145.34,324.81 L145.62,324.99 L145.91,325.16 L146.19,325.31 L146.48,325.45 L146.76,325.58 L147.05,325.70 L147.33,325.80 L147.62,325.89 L147.90,325.96 L148.19,326.02 L148.47,326.06 L148.76,326.09 L149.04,326.10 L149.33,326.10 L149.61,326.10 L149.90,326.10 L150.18,326.10 L150.47,326.10 L150.75,326.10 L151.04,326.10 L151.32,326.10 L151.61,326.10 L151.89,326.10 L152.18,326.10 L152.46,326.10 L152.75,326.10 L153.03,326.10 L153.32,326.10 L153.60,326.10 L153.89,326.10 L154.17,326.10 L154.46,326.10 L154.74,326.10 L155.03,326.10 L155.31,326.10 L155.60,326.10 L155.88,326.10 L156.17,326.10 L156.45,326.10 L156.74,326.10 L157.02,326.10 L157.31,326.09 L157.59,326.07 L157.88,326.04 L158.16,325.99 L158.45,325.92 L158.73,325.84 L159.02,325.75 L159.30,325.65 L159.59,325.53 L159.87,325.41 L160.16,325.27 L160.44,325.12 L160.73,324.97 L161.01,324.80 L161.30,324.63 L161.58,324.46 L161.87,324.28 L162.15,324.09 L162.44,323.91 L162.72,323.72 L163.01,323.53 L163.29,323.34 L163.58,323.16 L163.86,322.98 L164.15,322.80 L164.43,322.63 L164.72,322.47 L165.00,322.31" fill="none" stroke="#2c6cb8" stroke-width="0.9"/>
<path d="M22.80,326.10 L23.08,326.10 L23.37,326.10 L23.65,326.10 L23.94,326.10 L24.22,326.10 L24.51,326.10 L24.79,326.10 L25.08,326.10 L25.36,326.10 L25.65,326.10 L25.93,326.10 L26.22,326.10 L26.50,326.10 L26.79,326.10 L27.07,326.10 L27.36,326.10 L27.64,326.10 L27.93,326.10 L28.21,326.10 L28.50,326.10 L28.78,326.10 L29.07,326.10 L29.35,326.10 L29.64,326.10 L29.92,326.10 L30.21,326.10 L30.49,326.10 L30.78,326.10 L31.06,326.10 L31.35,326.10 L31.63,326.10 L31.92,326.10 L32.20,326.10 L32.49,326.10 L32.77,326.10 L33.06,326.10 L33.34,326.10 L33.63,326.10 L33.91,326.10 L34.20,326.10 L34.48,326.10 L34.77,326.10 L35.05,326.10 L35.34,326.10 L35.62,326.10 L35.91,326.10 L36.19,326.10 L36.48,326.10 L36.76,326.10 L37.05,326.10 L37.33,326.10 L37.62,326.10 L37.90,326.10 L38.19,326.10 L38.47,326.10 L38.76,326.10 L39.04,326.10 L39.33,326.10 L39.61,326.10 L39.90,326.10 L40.18,326.10 L40.47,326.10 L40.75,326.10 L41.04,326.10 L41.32,326.10 L41.61,326.10 L41.89,326.10 L42.18,326.10 L42.46,326.10 L42.75,326.10 L43.03,326.10 L43.32,326.10 L43.60,326.10 L43.89,326.10 L44.17,326.10 L44.46,326.10 L44.74,326.10 L45.03,326.07 L45.31,325.95 L45.60,325.75 L45.88,325.46 L46.17,325.10 L46.45,324.64 L46.74,324.11 L47.02,323.50 L47.31,322.80 L47.59,322.03 L47.88,321.17 L48.16,320.25 L48.45,319.25 L48.73,318.17 L49.02,317.03 L49.30,315.82 L49.59,314.54 L49.87,313.20 L50.16,311.79 L50.44,310.33 L50.73,308.81 L51.01,307.24 L51.30,305.62 L51.58,303.95 L51.87,302.24 L52.15,300.48 L52.44,298.69 L52.72,296.86 L53.01,295.00 L53.29,293.11 L53.58,291.20 L53.86,289.27 L54.15,287.32 L54.43,285.35 L54.72,283.38 L55.00,281.39 L55.29,279.41 L55.57,277.42 L55.86,275.44 L56.14,273.47 L56.43,271.51 L56.71,269.56 L57.00,267.63 L57.28,265.72 L57.57,263.84 L57.85,261.98 L58.14,260.16 L58.42,258.37 L58.71,256.63 L58.99,254.92 L59.28,253.26 L59.56,251.65 L59.85,250.08 L60.13,248.58 L60.42,247.12 L60.70,245.73 L60.99,244.40 L61.27,243.13 L61.56,241.93 L61.84,240.80 L62.13,239.74 L62.41,238.75 L62.70,237.84 L62.98,237.00 L63.27,236.24 L63.55,235.56 L63.84,234.96 L64.12,234.44 L64.41,234.00 L64.69,233.65 L64.98,233.38 L65.26,233.19 L65.55,233.09 L65.83,233.07 L66.12,233.14 L66.40,233.29 L66.69,233.53 L66.97,233.85 L67.26,234.26 L67.54,234.74 L67.83,235.31 L68.11,235.96 L68.40,236.69 L68.68,237.50 L68.97,238.38 L69.25,239.34 L69.54,240.37 L69.82,241.48 L70.11,242.65 L70.39,243.89 L70.67,245.20 L70.96,246.57 L71.24,247.99 L71.53,249.48 L71.81,251.02 L72.10,252.61 L72.38,254.26 L72.67,255.95 L72.95,257.68 L73.24,259.45 L73.52,261.26 L73.81,263.10 L74.09,264.97 L74.38,266.87 L74.66,268.79 L74.95,270.73 L75.23,272.69 L75.52,274.66 L75.80,276.64 L76.09,278.62 L76.37,280.61 L76.66,282.59 L76.94,284.57 L77.23,286.54 L77.51,288.50 L77.80,290.44 L78.08,292.36 L78.37,294.26 L78.65,296.13 L78.94,297.97 L79.22,299.78 L79.51,301.55 L79.79,303.28 L80.08,304.96 L80.36,306.61 L80.65,308.20 L80.93,309.74 L81.22,311.22 L81.50,312.65 L81.79,314.01 L82.07,315.32 L82.36,316.56 L82.64,317.73 L82.93,318.83 L83.21,319.86 L83.50,320.82 L83.78,321.70 L84.07,322.50 L84.35,323.23 L84.64,323.88 L84.92,324.44 L85.21,324.93 L85.49,325.33 L85.78,325.65 L86.06,325.88 L86.35,326.03 L86.63,326.10 L86.92,326.10 L87.20,326.10 L87.49,326.10 L87.77,326.10 L88.06,326.10 L88.34,326.10 L88.63,326.10 L88.91,326.10 L89.20,326.10 L89.48,326.10 L89.77,326.10 L90.05,326.10 L90.34,326.10 L90.62,326.10 L90.91,326.10 L91.19,326.10 L91.48,326.10 L91.76,326.10 L92.05,326.10 L92.33,326.10 L92.62,326.10 L92.90,326.10 L93.19,326.10 L93.47,326.10 L93.76,326.10 L94.04,326.10 L94.33,326.10 L94.61,326.10 L94.90,326.10 L95.18,326.10 L95.47,326.10 L95.75,326.10 L96.04,326.10 L96.32,326.10 L96.61,326.10 L96.89,326.10 L97.18,326.10 L97.46,326.10 L97.75,326.10 L98.03,326.10 L98.32,326.10 L98.60,326.10 L98.89,326.10 L99.17,326.10 L99.46,326.10 L99.74,326.10 L100.03,326.10 L100.31,326.10 L100.60,326.10 L100.88,326.10 L101.17,326.10 L101.45,326.10 L101.74,326.10 L102.02,326.10 L102.31,326.10 L102.59,326.10 L102.88,326.10 L103.16,326.10 L103.45,326.10 L103.73,326.10 L104.02,326.10 L104.30,326.10 L104.59,326.10 L104.87,326.10 L105.16,326.10 L105.44,326.10 L105.73,326.10 L106.01,326.10 L106.30,326.10 L106.58,326.10 L106.87,326.10 L107.15,326.10 L107.44,326.10 L107.72,326.10 L108.01,326.10 L108.29,326.10 L108.58,326.10 L108.86,326.10 L109.15,326.10 L109.43,326.10 L109.72,326.10 L110.00,326.10 L110.29,326.10 L110.57,326.10 L110.86,326.10 L111.14,326.10 L111.43,326.10 L111.71,326.10 L112.00,326.10 L112.28,326.10 L112.57,326.10 L112.85,326.10 L113.14,326.10 L113.42,326.10 L113.71,326.10 L113.99,326.10 L114.28,326.10 L114.56,326.10 L114.85,326.10 L115.13,326.10 L115.42,326.10 L115.70,326.10 L115.99,326.10 L116.27,326.10 L116.56,326.10 L116.84,326.10 L117.13,326.10 L117.41,326.10 L117.69,326.10 L117.98,326.10 L118.26,326.10 L118.55,326.10 L118.83,326.10 L119.12,326.10 L119.40,326.10 L119.69,326.10 L119.97,326.10 L120.26,326.10 L120.54,326.10 L120.83,326.10 L121.11,326.10 L121.40,326.10 L121.68,326.10 L121.97,326.10 L122.25,326.10 L122.54,326.10 L122.82,326.10 L123.11,326.10 L123.39,326.10 L123.68,326.10 L123.96,326.10 L124.25,326.10 L124.53,326.10 L124.82,326.10 L125.10,326.10 L125.39,326.10 L125.67,326.10 L125.96,326.10 L126.24,326.10 L126.53,326.10 L126.81,326.10 L127.10,326.10 L127.38,326.10 L127.67,326.10 L127.95,326.10 L128.24,326.10 L128.52,326.10 L128.81,326.10 L129.09,326.10 L129.38,326.10 L129.66,326.10 L129.95,326.10 L130.23,326.10 L130.52,326.10 L130.80,326.10 L131.09,326.10 L131.37,326.10 L131.66,326.10 L131.94,326.10 L132.23,326.10 L132.51,326.10 L132.80,326.10 L133.08,326.10 L133.37,326.10 L133.65,326.10 L133.94,326.10 L134.22,326.10 L134.51,326.10 L134.79,326.10 L135.08,326.10 L135.36,326.10 L135.65,326.10 L135.93,326.10 L136.22,326.10 L136.50,326.10 L136.79,326.10 L137.07,326.10 L137.36,326.10 L137.64,326.10 L137.93,326.10 L138.21,326.10 L138.50,326.10 L138.78,326.10 L139.07,326.10 L139.35,326.10 L139.64,326.10 L139.92,326.10 L140.21,326.10 L140.49,326.10 L140.78,326.10 L141.06,326.10 L141.35,326.10 L141.63,326.10 L141.92,326.10 L142.20,326.10 L142.49,326.10 L142.77,326.10 L143.06,326.10 L143.34,326.10 L143.63,326.10 L143.91,326.10 L144.20,326.10 L144.48,326.10 L144.77,326.10 L145.05,326.10 L145.34,326.10 L145.62,326.10 L145.91,326.10 L146.19,326.10 L146.48,326.10 L146.76,326.10 L147.05,326.10 L147.33,326.10 L147.62,326.10 L147.90,326.10 L148.19,326.10 L148.47,326.10 L148.76,326.10 L149.04,326.10 L149.33,326.10 L149.61,326.10 L149.90,326.10 L150.18,326.10 L150.47,326.10 L150.75,326.10 L151.04,326.10 L151.32,326.10 L151.61,326.10 L151.89,326.10 L152.18,326.10 L152.46,326.10 L152.75,326.10 L153.03,326.10 L153.32,326.10 L153.60,326.10 L153.89,326.10 L154.17,326.10 L154.46,326.10 L154.74,326.10 L155.03,326.10 L155.31,326.10 L155.60,326.10 L155.88,326.10 L156.17,326.10 L156.45,326.10 L156.74,326.10 L157.02,326.10 L157.31,326.10 L157.59,326.10 L157.88,326.10 L158.16,326.10 L158.45,326.10 L158.73,326.10 L159.02,326.10 L159.30,326.10 L159.59,326.10 L159.87,326.10 L160.16,326.10 L160.44,326.10 L160.73,326.10 L161.01,326.10 L161.30,326.10 L161.58,326.10 L161.87,326.10 L162.15,326.10 L162.44,326.10 L162.72,326.10 L163.01,326.10 L163.29,326.10 L163.58,326.10 L163.86,326.10 L164.15,326.10 L164.43,326.10 L164.72,326.10 L165.00,326.10" fill="none" stroke="#62a6dc" stroke-width="0.9" stroke-dasharray="3,2"/>
<path d="M22.80,326.10 L23.08,326.10 L23.37,326.10 L23.65,326.10 L23.94,326.10 L24.22,326.10 L24.51,326.10 L24.79,326.10 L25.08,326.10 L25.36,326.10 L25.65,326.10 L25.93,326.10 L26.22,326.10 L26.50,326.10 L26.79,326.10 L27.07,326.10 L27.36,326.10 L27.64,326.10 L27.93,326.10 L28.21,326.10 L28.50,326.10 L28.78,326.10 L29.07,326.10 L29.35,326.10 L29.64,326.10 L29.92,326.10 L30.21,326.10 L30.49,326.10 L30.78,326.10 L31.06,326.10 L31.35,326.10 L31.63,326.10 L31.92,326.10 L32.20,326.10 L32.49,326.10 L32.77,326.10 L33.06,326.10 L33.34,326.10 L33.63,326.10 L33.91,326.10 L34.20,326.10 L34.48,326.10 L34.77,326.10 L35.05,326.10 L35.34,326.10 L35.62,326.10 L35.91,326.10 L36.19,326.10 L36.48,326.10 L36.76,326.10 L37.05,326.10 L37.33,326.10 L37.62,326.10 L37.90,326.10 L38.19,326.10 L38.47,326.10 L38.76,326.10 L39.04,326.10 L39.33,326.10 L39.61,326.10 L39.90,326.10 L40.18,326.10 L40.47,326.10 L40.75,326.10 L41.04,326.10 L41.32,326.10 L41.61,326.10 L41.89,326.10 L42.18,326.10 L42.46,326.10 L42.75,326.10 L43.03,326.10 L43.32,326.10 L43.60,326.10 L43.89,326.10 L44.17,326.10 L44.46,326.10 L44.74,326.08 L45.03,325.98 L45.31,325.81 L45.60,325.56 L45.88,325.23 L46.17,324.83 L46.45,324.35 L46.74,323.80 L47.02,323.18 L47.31,322.48 L47.59,321.72 L47.88,320.88 L48.16,319.97 L48.45,319.00 L48.73,317.97 L49.02,316.87 L49.30,315.71 L49.59,314.49 L49.87,313.21 L50.16,311.88 L50.44,310.49 L50.73,309.06 L51.01,307.58 L51.30,306.05 L51.58,304.48 L51.87,302.87 L52.15,301.22 L52.44,299.54 L52.72,297.82 L53.01,296.08 L53.29,294.31 L53.58,292.52 L53.86,290.71 L54.15,288.88 L54.43,287.04 L54.72,285.19 L55.00,283.34 L55.29,281.48 L55.57,279.62 L55.86,277.76 L56.14,275.91 L56.43,274.06 L56.71,272.23 L57.00,270.41 L57.28,268.62 L57.57,266.84 L57.85,265.09 L58.14,263.36 L58.42,261.67 L58.71,260.01 L58.99,258.39 L59.28,256.80 L59.56,255.26 L59.85,253.76 L60.13,252.31 L60.42,250.91 L60.70,249.56 L60.99,248.26 L61.27,247.02 L61.56,245.84 L61.84,244.72 L62.13,243.66 L62.41,242.67 L62.70,241.74 L62.98,240.88 L63.27,240.09 L63.55,239.37 L63.84,238.72 L64.12,238.14 L64.41,237.64 L64.69,237.21 L64.98,236.86 L65.26,236.59 L65.55,236.39 L65.83,236.26 L66.12,236.22 L66.40,236.25 L66.69,236.36 L66.97,236.54 L67.26,236.80 L67.54,237.14 L67.83,237.55 L68.11,238.04 L68.40,238.60 L68.68,239.24 L68.97,239.95 L69.25,240.72 L69.54,241.57 L69.82,242.49 L70.11,243.47 L70.39,244.51 L70.67,245.62 L70.96,246.79 L71.24,248.02 L71.53,249.31 L71.81,250.65 L72.10,252.04 L72.38,253.48 L72.67,254.97 L72.95,256.50 L73.24,258.08 L73.52,259.70 L73.81,261.35 L74.09,263.04 L74.38,264.76 L74.66,266.50 L74.95,268.28 L75.23,270.07 L75.52,271.88 L75.80,273.71 L76.09,275.55 L76.37,277.40 L76.66,279.26 L76.94,281.12 L77.23,282.98 L77.51,284.84 L77.80,286.69 L78.08,288.54 L78.37,290.36 L78.65,292.18 L78.94,293.97 L79.22,295.75 L79.51,297.49 L79.79,299.21 L80.08,300.90 L80.36,302.56 L80.65,304.17 L80.93,305.75 L81.22,307.29 L81.50,308.78 L81.79,310.23 L82.07,311.62 L82.36,312.96 L82.64,314.25 L82.93,315.48 L83.21,316.65 L83.50,317.76 L83.78,318.81 L84.07,319.80 L84.35,320.71 L84.64,321.56 L84.92,322.34 L85.21,323.05 L85.49,323.69 L85.78,324.25 L86.06,324.75 L86.35,325.16 L86.63,325.50 L86.92,325.77 L87.20,325.95 L87.49,326.07 L87.77,326.10 L88.06,326.10 L88.34,326.10 L88.63,326.10 L88.91,326.10 L89.20,326.10 L89.48,326.10 L89.77,326.10 L90.05,326.10 L90.34,326.10 L90.62,326.10 L90.91,326.10 L91.19,326.10 L91.48,326.10 L91.76,326.10 L92.05,326.10 L92.33,326.10 L92.62,326.10 L92.90,326.10 L93.19,326.10 L93.47,326.10 L93.76,326.10 L94.04,326.10 L94.33,326.10 L94.61,326.10 L94.90,326.10 L95.18,326.10 L95.47,326.10 L95.75,326.10 L96.04,326.10 L96.32,326.10 L96.61,326.10 L96.89,326.10 L97.18,326.10 L97.46,326.10 L97.75,326.10 L98.03,326.10 L98.32,326.10 L98.60,326.10 L98.89,326.10 L99.17,326.10 L99.46,326.10 L99.74,326.10 L100.03,326.10 L100.31,326.10 L100.60,326.10 L100.88,326.10 L101.17,326.10 L101.45,326.10 L101.74,326.10 L102.02,326.10 L102.31,326.10 L102.59,326.10 L102.88,326.10 L103.16,326.10 L103.45,326.10 L103.73,326.10 L104.02,326.10 L104.30,326.10 L104.59,326.10 L104.87,326.10 L105.16,326.10 L105.44,326.10 L105.73,326.10 L106.01,326.10 L106.30,326.10 L106.58,326.10 L106.87,326.10 L107.15,326.10 L107.44,326.10 L107.72,326.10 L108.01,326.10 L108.29,326.10 L108.58,326.10 L108.86,326.10 L109.15,326.10 L109.43,326.10 L109.72,326.10 L110.00,326.10 L110.29,326.10 L110.57,326.10 L110.86,326.10 L111.14,326.10 L111.43,326.10 L111.71,326.10 L112.00,326.10 L112.28,326.10 L112.57,326.10 L112.85,326.10 L113.14,326.10 L113.42,326.10 L113.71,326.10 L113.99,326.10 L114.28,326.10 L114.56,326.10 L114.85,326.10 L115.13,326.10 L115.42,326.10 L115.70,326.10 L115.99,326.10 L116.27,326.10 L116.56,326.10 L116.84,326.10 L117.13,326.10 L117.41,326.10 L117.69,326.10 L117.98,326.10 L118.26,326.10 L118.55,326.10 L118.83,326.10 L119.12,326.10 L119.40,326.10 L119.69,326.10 L119.97,326.10 L120.26,326.10 L120.54,326.10 L120.83,326.10 L121.11,326.10 L121.40,326.10 L121.68,326.10 L121.97,326.10 L122.25,326.10 L122.54,326.10 L122.82,326.10 L123.11,326.10 L123.39,326.07 L123.68,326.03 L123.96,325.98 L124.25,325.90 L124.53,325.81 L124.82,325.70 L125.10,325.58 L125.39,325.43 L125.67,325.28 L125.96,325.11 L126.24,324.92 L126.53,324.73 L126.81,324.52 L127.10,324.29 L127.38,324.06 L127.67,323.82 L127.95,323.57 L128.24,323.32 L128.52,323.06 L128.81,322.79 L129.09,322.52 L129.38,322.24 L129.66,321.97 L129.95,321.69 L130.23,321.42 L130.52,321.15 L130.80,320.88 L131.09,320.61 L131.37,320.36 L131.66,320.10 L131.94,319.86 L132.23,319.62 L132.51,319.40 L132.80,319.18 L133.08,318.98 L133.37,318.79 L133.65,318.61 L133.94,318.44 L134.22,318.30 L134.51,318.16 L134.79,318.05 L135.08,317.95 L135.36,317.86 L135.65,317.80 L135.93,317.75 L136.22,317.72 L136.50,317.70 L136.79,317.71 L137.07,317.73 L137.36,317.77 L137.64,317.83 L137.93,317.91 L138.21,318.00 L138.50,318.11 L138.78,318.24 L139.07,318.38 L139.35,318.54 L139.64,318.71 L139.92,318.90 L140.21,319.10 L140.49,319.31 L140.78,319.53 L141.06,319.76 L141.35,320.00 L141.63,320.25 L141.92,320.51 L142.20,320.77 L142.49,321.04 L142.77,321.31 L143.06,321.58 L143.34,321.86 L143.63,322.14 L143.91,322.41 L144.20,322.68 L144.48,322.95 L144.77,323.21 L145.05,323.47 L145.34,323.72 L145.62,323.97 L145.91,324.20 L146.19,324.43 L146.48,324.64 L146.76,324.85 L147.05,325.04 L147.33,325.21 L147.62,325.37 L147.90,325.52 L148.19,325.65 L148.47,325.77 L148.76,325.87 L149.04,325.95 L149.33,326.01 L149.61,326.06 L149.90,326.09 L150.18,326.10 L150.47,326.10 L150.75,326.10 L151.04,326.10 L151.32,326.10 L151.61,326.10 L151.89,326.10 L152.18,326.10 L152.46,326.10 L152.75,326.10 L153.03,326.10 L153.32,326.10 L153.60,326.10 L153.89,326.10 L154.17,326.10 L154.46,326.10 L154.74,326.10 L155.03,326.10 L155.31,326.10 L155.60,326.10 L155.88,326.10 L156.17,326.10 L156.45,326.10 L156.74,326.10 L157.02,326.10 L157.31,326.10 L157.59,326.10 L157.88,326.10 L158.16,326.10 L158.45,326.10 L158.73,326.10 L159.02,326.10 L159.30,326.10 L159.59,326.10 L159.87,326.10 L160.16,326.10 L160.44,326.10 L160.73,326.10 L161.01,326.10 L161.30,326.10 L161.58,326.10 L161.87,326.10 L162.15,326.10 L162.44,326.10 L162.72,326.10 L163.01,326.10 L163.29,326.10 L163.58,326.10 L163.86,326.10 L164.15,326.10 L164.43,326.10 L164.72,326.10 L165.00,326.10" fill="none" stroke="#62a6dc" stroke-width="0.9"/>
<path d="M22.80,326.10 L23.08,326.10 L23.37,326.10 L23.65,326.10 L23.94,326.10 L24.22,326.10 L24.51,326.10 L24.79,326.10 L25.08,326.10 L25.36,326.10 L25.65,326.10 L25.93,326.10 L26.22,326.10 L26.50,326.10 L26.79,326.10 L27.07,326.10 L27.36,326.10 L27.64,326.10 L27.93,326.10 L28.21,326.10 L28.50,326.10 L28.78,326.10 L29.07,326.10 L29.35,326.10 L29.64,326.10 L29.92,326.10 L30.21,326.10 L30.49,326.10 L30.78,326.10 L31.06,326.10 L31.35,326.10 L31.63,326.10 L31.92,326.10 L32.20,326.10 L32.49,326.10 L32.77,326.10 L33.06,326.10 L33.34,326.10 L33.63,326.10 L33.91,326.10 L34.20,326.10 L34.48,326.10 L34.77,326.10 L35.05,326.10 L35.34,326.10 L35.62,326.10 L35.91,326.10 L36.19,326.10 L36.48,326.10 L36.76,326.10 L37.05,326.10 L37.33,326.10 L37.62,326.10 L37.90,326.10 L38.19,326.10 L38.47,326.10 L38.76,326.10 L39.04,326.10 L39.33,326.10 L39.61,326.10 L39.90,326.10 L40.18,326.10 L40.47,326.10 L40.75,326.10 L41.04,326.10 L41.32,326.10 L41.61,326.10 L41.89,326.10 L42.18,326.10 L42.46,326.10 L42.75,326.10 L43.03,326.10 L43.32,326.10 L43.60,326.10 L43.89,326.10 L44.17,326.10 L44.46,326.10 L44.74,326.10 L45.03,326.10 L45.31,326.10 L45.60,326.10 L45.88,326.10 L46.17,326.10 L46.45,326.10 L46.74,326.10 L47.02,326.10 L47.31,326.10 L47.59,326.10 L47.88,326.10 L48.16,326.10 L48.45,326.10 L48.73,326.10 L49.02,326.10 L49.30,326.10 L49.59,326.10 L49.87,326.10 L50.16,326.10 L50.44,326.10 L50.73,326.10 L51.01,326.10 L51.30,326.10 L51.58,326.10 L51.87,326.10 L52.15,326.10 L52.44,326.10 L52.72,326.10 L53.01,326.10 L53.29,326.10 L53.58,326.10 L53.86,326.10 L54.15,326.10 L54.43,326.10 L54.72,326.10 L55.00,326.10 L55.29,326.10 L55.57,326.10 L55.86,326.10 L56.14,326.10 L56.43,326.10 L56.71,326.10 L57.00,326.10 L57.28,326.10 L57.57,326.10 L57.85,326.10 L58.14,326.10 L58.42,326.10 L58.71,326.10 L58.99,326.10 L59.28,326.10 L59.56,326.10 L59.85,326.10 L60.13,326.10 L60.42,326.10 L60.70,326.10 L60.99,326.10 L61.27,326.10 L61.56,326.10 L61.84,326.10 L62.13,326.10 L62.41,326.10 L62.70,326.10 L62.98,326.10 L63.27,326.10 L63.55,326.10 L63.84,326.10 L64.12,326.10 L64.41,326.10 L64.69,326.10 L64.98,326.10 L65.26,326.10 L65.55,326.10 L65.83,326.10 L66.12,326.10 L66.40,326.10 L66.69,326.10 L66.97,326.10 L67.26,326.10 L67.54,326.10 L67.83,326.10 L68.11,326.10 L68.40,326.10 L68.68,326.10 L68.97,326.10 L69.25,326.10 L69.54,326.10 L69.82,326.10 L70.11,326.10 L70.39,326.10 L70.67,326.10 L70.96,326.10 L71.24,326.10 L71.53,326.10 L71.81,326.10 L72.10,326.10 L72.38,326.10 L72.67,326.10 L72.95,326.10 L73.24,326.10 L73.52,326.10 L73.81,326.10 L74.09,326.10 L74.38,326.10 L74.66,326.06 L74.95,325.93 L75.23,325.72 L75.52,325.43 L75.80,325.06 L76.09,324.61 L76.37,324.08 L76.66,323.47 L76.94,322.78 L77.23,322.02 L77.51,321.18 L77.80,320.27 L78.08,319.28 L78.37,318.22 L78.65,317.10 L78.94,315.91 L79.22,314.65 L79.51,313.33 L79.79,311.95 L80.08,310.51 L80.36,309.02 L80.65,307.47 L80.93,305.88 L81.22,304.23 L81.50,302.55 L81.79,300.82 L82.07,299.05 L82.36,297.24 L82.64,295.41 L82.93,293.54 L83.21,291.65 L83.50,289.73 L83.78,287.80 L84.07,285.85 L84.35,283.89 L84.64,281.91 L84.92,279.94 L85.21,277.96 L85.49,275.98 L85.78,274.00 L86.06,272.03 L86.35,270.08 L86.63,268.13 L86.92,266.21 L87.20,264.31 L87.49,262.43 L87.77,260.58 L88.06,258.76 L88.34,256.97 L88.63,255.23 L88.91,253.52 L89.20,251.85 L89.48,250.23 L89.77,248.66 L90.05,247.15 L90.34,245.68 L90.62,244.28 L90.91,242.93 L91.19,241.64 L91.48,240.42 L91.76,239.26 L92.05,238.17 L92.33,237.16 L92.62,236.21 L92.90,235.33 L93.19,234.53 L93.47,233.81 L93.76,233.16 L94.04,232.60 L94.33,232.11 L94.61,231.70 L94.90,231.37 L95.18,231.13 L95.47,230.97 L95.75,230.88 L96.04,230.89 L96.32,230.97 L96.61,231.13 L96.89,231.38 L97.18,231.71 L97.46,232.12 L97.75,232.61 L98.03,233.18 L98.32,233.83 L98.60,234.56 L98.89,235.36 L99.17,236.23 L99.46,237.18 L99.74,238.20 L100.03,239.29 L100.31,240.45 L100.60,241.68 L100.88,242.97 L101.17,244.31 L101.45,245.72 L101.74,247.19 L102.02,248.71 L102.31,250.28 L102.59,251.90 L102.88,253.56 L103.16,255.27 L103.45,257.02 L103.73,258.81 L104.02,260.63 L104.30,262.48 L104.59,264.36 L104.87,266.26 L105.16,268.19 L105.44,270.13 L105.73,272.09 L106.01,274.06 L106.30,276.03 L106.58,278.01 L106.87,279.99 L107.15,281.97 L107.44,283.94 L107.72,285.90 L108.01,287.85 L108.29,289.79 L108.58,291.70 L108.86,293.59 L109.15,295.46 L109.43,297.29 L109.72,299.10 L110.00,300.86 L110.29,302.59 L110.57,304.28 L110.86,305.92 L111.14,307.52 L111.43,309.06 L111.71,310.55 L112.00,311.99 L112.28,313.37 L112.57,314.69 L112.85,315.94 L113.14,317.13 L113.42,318.25 L113.71,319.31 L113.99,320.29 L114.28,321.20 L114.56,322.04 L114.85,322.80 L115.13,323.49 L115.42,324.10 L115.70,324.63 L115.99,325.08 L116.27,325.44 L116.56,325.73 L116.84,325.94 L117.13,326.06 L117.41,326.10 L117.69,326.10 L117.98,326.10 L118.26,326.10 L118.55,326.10 L118.83,326.10 L119.12,326.10 L119.40,326.10 L119.69,326.10 L119.97,326.10 L120.26,326.10 L120.54,326.10 L120.83,326.10 L121.11,326.10 L121.40,326.10 L121.68,326.10 L121.97,326.10 L122.25,326.10 L122.54,326.10 L122.82,326.10 L123.11,326.10 L123.39,326.10 L123.68,326.10 L123.96,326.10 L124.25,326.10 L124.53,326.10 L124.82,326.10 L125.10,326.10 L125.39,326.10 L125.67,326.10 L125.96,326.10 L126.24,326.10 L126.53,326.10 L126.81,326.10 L127.10,326.10 L127.38,326.10 L127.67,326.10 L127.95,326.10 L128.24,326.10 L128.52,326.10 L128.81,326.10 L129.09,326.10 L129.38,326.10 L129.66,326.10 L129.95,326.10 L130.23,326.10 L130.52,326.10 L130.80,326.10 L131.09,326.10 L131.37,326.10 L131.66,326.10 L131.94,326.10 L132.23,326.10 L132.51,326.10 L132.80,326.10 L133.08,326.10 L133.37,326.10 L133.65,326.10 L133.94,326.10 L134.22,326.10 L134.51,326.10 L134.79,326.10 L135.08,326.10 L135.36,326.10 L135.65,326.10 L135.93,326.10 L136.22,326.10 L136.50,326.10 L136.79,326.10 L137.07,326.10 L137.36,326.10 L137.64,326.10 L137.93,326.10 L138.21,326.10 L138.50,326.10 L138.78,326.10 L139.07,326.10 L139.35,326.10 L139.64,326.10 L139.92,326.10 L140.21,326.10 L140.49,326.10 L140.78,326.10 L141.06,326.10 L141.35,326.10 L141.63,326.10 L141.92,326.10 L142.20,326.10 L142.49,326.10 L142.77,326.10 L143.06,326.10 L143.34,326.10 L143.63,326.10 L143.91,326.10 L144.20,326.10 L144.48,326.10 L144.77,326.10 L145.05,326.10 L145.34,326.10 L145.62,326.10 L145.91,326.10 L146.19,326.10 L146.48,326.10 L146.76,326.10 L147.05,326.10 L147.33,326.10 L147.62,326.10 L147.90,326.10 L148.19,326.10 L148.47,326.10 L148.76,326.10 L149.04,326.10 L149.33,326.10 L149.61,326.10 L149.90,326.10 L150.18,326.10 L150.47,326.10 L150.75,326.10 L151.04,326.10 L151.32,326.10 L151.61,326.10 L151.89,326.10 L152.18,326.10 L152.46,326.10 L152.75,326.10 L153.03,326.10 L153.32,326.10 L153.60,326.10 L153.89,326.10 L154.17,326.10 L154.46,326.10 L154.74,326.10 L155.03,326.10 L155.31,326.10 L155.60,326.10 L155.88,326.10 L156.17,326.10 L156.45,326.10 L156.74,326.10 L157.02,326.10 L157.31,326.10 L157.59,326.10 L157.88,326.10 L158.16,326.10 L158.45,326.10 L158.73,326.10 L159.02,326.10 L159.30,326.10 L159.59,326.10 L159.87,326.10 L160.16,326.10 L160.44,326.10 L160.73,326.10 L161.01,326.10 L161.30,326.10 L161.58,326.10 L161.87,326.10 L162.15,326.10 L162.44,326.10 L162.72,326.10 L163.01,326.10 L163.29,326.10 L163.58,326.10 L163.86,326.10 L164.15,326.10 L164.43,326.10 L164.72,326.10 L165.00,326.10" fill="none" stroke="#d8d8d8" stroke-width="0.9" stroke-dasharray="3,2"/>
<path d="M22.80,326.10 L23.08,326.10 L23.37,326.10 L23.65,326.10 L23.94,326.10 L24.22,326.10 L24.51,326.10 L24.79,326.10 L25.08,326.10 L25.36,326.10 L25.65,326.10 L25.93,326.10 L26.22,326.10 L26.50,326.10 L26.79,326.10 L27.07,326.10 L27.36,326.10 L27.64,326.10 L27.93,326.10 L28.21,326.10 L28.50,326.10 L28.78,326.10 L29.07,326.10 L29.35,326.10 L29.64,326.10 L29.92,326.10 L30.21,326.10 L30.49,326.10 L30.78,326.10 L31.06,326.10 L31.35,326.10 L31.63,326.10 L31.92,326.10 L32.20,326.10 L32.49,326.10 L32.77,326.10 L33.06,326.10 L33.34,326.10 L33.63,326.10 L33.91,326.10 L34.20,326.10 L34.48,326.10 L34.77,326.10 L35.05,326.10 L35.34,326.10 L35.62,326.10 L35.91,326.10 L36.19,326.10 L36.48,326.10 L36.76,326.10 L37.05,326.10 L37.33,326.10 L37.62,326.10 L37.90,326.10 L38.19,326.10 L38.47,326.10 L38.76,326.10 L39.04,326.10 L39.33,326.10 L39.61,326.10 L39.90,326.10 L40.18,326.10 L40.47,326.10 L40.75,326.10 L41.04,326.10 L41.32,326.10 L41.61,326.10 L41.89,326.10 L42.18,326.10 L42.46,326.10 L42.75,326.10 L43.03,326.10 L43.32,326.10 L43.60,326.10 L43.89,326.10 L44.17,326.10 L44.46,326.10 L44.74,326.10 L45.03,326.10 L45.31,326.10 L45.60,326.10 L45.88,326.10 L46.17,326.10 L46.45,326.10 L46.74,326.10 L47.02,326.10 L47.31,326.10 L47.59,326.10 L47.88,326.10 L48.16,326.10 L48.45,326.10 L48.73,326.10 L49.02,326.10 L49.30,326.10 L49.59,326.10 L49.87,326.10 L50.16,326.10 L50.44,326.10 L50.73,326.10 L51.01,326.10 L51.30,326.10 L51.58,326.10 L51.87,326.10 L52.15,326.10 L52.44,326.10 L52.72,326.10 L53.01,326.10 L53.29,326.10 L53.58,326.10 L53.86,326.10 L54.15,326.10 L54.43,326.10 L54.72,326.10 L55.00,326.10 L55.29,326.10 L55.57,326.10 L55.86,326.10 L56.14,326.10 L56.43,326.10 L56.71,326.10 L57.00,326.10 L57.28,326.10 L57.57,326.10 L57.85,326.10 L58.14,326.10 L58.42,326.10 L58.71,326.10 L58.99,326.10 L59.28,326.10 L59.56,326.10 L59.85,326.10 L60.13,326.10 L60.42,326.10 L60.70,326.10 L60.99,326.10 L61.27,326.10 L61.56,326.10 L61.84,326.10 L62.13,326.10 L62.41,326.10 L62.70,326.10 L62.98,326.10 L63.27,326.10 L63.55,326.10 L63.84,326.10 L64.12,326.10 L64.41,326.10 L64.69,326.10 L64.98,326.10 L65.26,326.10 L65.55,326.10 L65.83,326.10 L66.12,326.10 L66.40,326.10 L66.69,326.10 L66.97,326.10 L67.26,326.10 L67.54,326.10 L67.83,326.10 L68.11,326.10 L68.40,326.10 L68.68,326.10 L68.97,326.10 L69.25,326.10 L69.54,326.10 L69.82,326.10 L70.11,326.10 L70.39,326.10 L70.67,326.10 L70.96,326.10 L71.24,326.10 L71.53,326.10 L71.81,326.10 L72.10,326.10 L72.38,326.10 L72.67,326.10 L72.95,326.10 L73.24,326.03 L73.52,325.89 L73.81,325.68 L74.09,325.39 L74.38,325.03 L74.66,324.59 L74.95,324.08 L75.23,323.50 L75.52,322.85 L75.80,322.12 L76.09,321.33 L76.37,320.47 L76.66,319.55 L76.94,318.56 L77.23,317.51 L77.51,316.39 L77.80,315.22 L78.08,313.99 L78.37,312.70 L78.65,311.36 L78.94,309.97 L79.22,308.53 L79.51,307.05 L79.79,305.51 L80.08,303.94 L80.36,302.33 L80.65,300.68 L80.93,299.00 L81.22,297.28 L81.50,295.54 L81.79,293.78 L82.07,291.99 L82.36,290.18 L82.64,288.35 L82.93,286.51 L83.21,284.66 L83.50,282.80 L83.78,280.93 L84.07,279.07 L84.35,277.20 L84.64,275.34 L84.92,273.49 L85.21,271.65 L85.49,269.82 L85.78,268.01 L86.06,266.22 L86.35,264.44 L86.63,262.70 L86.92,260.98 L87.20,259.29 L87.49,257.64 L87.77,256.02 L88.06,254.44 L88.34,252.91 L88.63,251.41 L88.91,249.97 L89.20,248.57 L89.48,247.22 L89.77,245.93 L90.05,244.69 L90.34,243.51 L90.62,242.39 L90.91,241.33 L91.19,240.33 L91.48,239.39 L91.76,238.52 L92.05,237.72 L92.33,236.99 L92.62,236.33 L92.90,235.74 L93.19,235.22 L93.47,234.77 L93.76,234.40 L94.04,234.10 L94.33,233.87 L94.61,233.73 L94.90,233.65 L95.18,233.65 L95.47,233.73 L95.75,233.88 L96.04,234.10 L96.32,234.40 L96.61,234.78 L96.89,235.23 L97.18,235.75 L97.46,236.34 L97.75,237.00 L98.03,237.74 L98.32,238.54 L98.60,239.41 L98.89,240.34 L99.17,241.34 L99.46,242.40 L99.74,243.53 L100.03,244.71 L100.31,245.95 L100.60,247.24 L100.88,248.59 L101.17,249.99 L101.45,251.44 L101.74,252.93 L102.02,254.47 L102.31,256.05 L102.59,257.67 L102.88,259.32 L103.16,261.01 L103.45,262.73 L103.73,264.47 L104.02,266.24 L104.30,268.04 L104.59,269.85 L104.87,271.68 L105.16,273.52 L105.44,275.37 L105.73,277.23 L106.01,279.10 L106.30,280.96 L106.58,282.83 L106.87,284.69 L107.15,286.54 L107.44,288.38 L107.72,290.20 L108.01,292.01 L108.29,293.80 L108.58,295.57 L108.86,297.31 L109.15,299.03 L109.43,300.71 L109.72,302.36 L110.00,303.97 L110.29,305.54 L110.57,307.07 L110.86,308.56 L111.14,309.99 L111.43,311.39 L111.71,312.72 L112.00,314.01 L112.28,315.24 L112.57,316.41 L112.85,317.52 L113.14,318.58 L113.42,319.56 L113.71,320.49 L113.99,321.35 L114.28,322.14 L114.56,322.86 L114.85,323.51 L115.13,324.09 L115.42,324.60 L115.70,325.03 L115.99,325.39 L116.27,325.68 L116.56,325.89 L116.84,326.03 L117.13,326.10 L117.41,326.10 L117.69,326.10 L117.98,326.10 L118.26,326.10 L118.55,326.10 L118.83,326.10 L119.12,326.10 L119.40,326.10 L119.69,326.10 L119.97,326.10 L120.26,326.10 L120.54,326.10 L120.83,326.10 L121.11,326.10 L121.40,326.10 L121.68,326.10 L121.97,326.10 L122.25,326.07 L122.54,326.03 L122.82,325.97 L123.11,325.90 L123.39,325.80 L123.68,325.69 L123.96,325.56 L124.25,325.41 L124.53,325.25 L124.82,325.07 L125.10,324.87 L125.39,324.67 L125.67,324.44 L125.96,324.21 L126.24,323.96 L126.53,323.71 L126.81,323.44 L127.10,323.16 L127.38,322.88 L127.67,322.59 L127.95,322.29 L128.24,321.99 L128.52,321.69 L128.81,321.38 L129.09,321.07 L129.38,320.76 L129.66,320.46 L129.95,320.15 L130.23,319.85 L130.52,319.55 L130.80,319.25 L131.09,318.97 L131.37,318.69 L131.66,318.42 L131.94,318.15 L132.23,317.90 L132.51,317.66 L132.80,317.44 L133.08,317.22 L133.37,317.02 L133.65,316.83 L133.94,316.66 L134.22,316.51 L134.51,316.37 L134.79,316.25 L135.08,316.14 L135.36,316.05 L135.65,315.99 L135.93,315.94 L136.22,315.90 L136.50,315.89 L136.79,315.90 L137.07,315.92 L137.36,315.96 L137.64,316.02 L137.93,316.10 L138.21,316.20 L138.50,316.32 L138.78,316.45 L139.07,316.60 L139.35,316.76 L139.64,316.94 L139.92,317.14 L140.21,317.35 L140.49,317.57 L140.78,317.81 L141.06,318.05 L141.35,318.31 L141.63,318.58 L141.92,318.85 L142.20,319.14 L142.49,319.43 L142.77,319.73 L143.06,320.03 L143.34,320.33 L143.63,320.64 L143.91,320.95 L144.20,321.26 L144.48,321.57 L144.77,321.87 L145.05,322.17 L145.34,322.47 L145.62,322.77 L145.91,323.05 L146.19,323.33 L146.48,323.60 L146.76,323.86 L147.05,324.11 L147.33,324.35 L147.62,324.58 L147.90,324.79 L148.19,324.99 L148.47,325.18 L148.76,325.35 L149.04,325.50 L149.33,325.64 L149.61,325.76 L149.90,325.86 L150.18,325.94 L150.47,326.01 L150.75,326.06 L151.04,326.09 L151.32,326.10 L151.61,326.10 L151.89,326.10 L152.18,326.10 L152.46,326.10 L152.75,326.10 L153.03,326.10 L153.32,326.10 L153.60,326.10 L153.89,326.10 L154.17,326.10 L154.46,326.10 L154.74,326.10 L155.03,326.10 L155.31,326.10 L155.60,326.10 L155.88,326.10 L156.17,326.10 L156.45,326.10 L156.74,326.10 L157.02,326.10 L157.31,326.10 L157.59,326.10 L157.88,326.10 L158.16,326.10 L158.45,326.10 L158.73,326.10 L159.02,326.10 L159.30,326.10 L159.59,326.10 L159.87,326.10 L160.16,326.10 L160.44,326.10 L160.73,326.10 L161.01,326.10 L161.30,326.10 L161.58,326.10 L161.87,326.10 L162.15,326.10 L162.44,326.10 L162.72,326.10 L163.01,326.10 L163.29,326.10 L163.58,326.10 L163.86,326.10 L164.15,326.10 L164.43,326.10 L164.72,326.10 L165.00,326.10" fill="none" stroke="#d8d8d8" stroke-width="0.9"/>
<path d="M22.80,326.10 L23.08,326.10 L23.37,326.10 L23.65,326.10 L23.94,326.10 L24.22,326.10 L24.51,326.10 L24.79,326.10 L25.08,326.10 L25.36,326.10 L25.65,326.10 L25.93,326.10 L26.22,326.10 L26.50,326.10 L26.79,326.10 L27.07,326.10 L27.36,326.10 L27.64,326.10 L27.93,326.10 L28.21,326.10 L28.50,326.10 L28.78,326.10 L29.07,326.10 L29.35,326.10 L29.64,326.10 L29.92,326.10 L30.21,326.10 L30.49,326.10 L30.78,326.10 L31.06,326.10 L31.35,326.10 L31.63,326.10 L31.92,326.10 L32.20,326.10 L32.49,326.10 L32.77,326.10 L33.06,326.10 L33.34,326.10 L33.63,326.10 L33.91,326.10 L34.20,326.10 L34.48,326.10 L34.77,326.10 L35.05,326.10 L35.34,326.10 L35.62,326.10 L35.91,326.10 L36.19,326.10 L36.48,326.10 L36.76,326.10 L37.05,326.10 L37.33,326.10 L37.62,326.10 L37.90,326.10 L38.19,326.10 L38.47,326.10 L38.76,326.10 L39.04,326.10 L39.33,326.10 L39.61,326.10 L39.90,326.10 L40.18,326.10 L40.47,326.10 L40.75,326.10 L41.04,326.10 L41.32,326.10 L41.61,326.10 L41.89,326.10 L42.18,326.10 L42.46,326.10 L42.75,326.10 L43.03,326.10 L43.32,326.10 L43.60,326.10 L43.89,326.10 L44.17,326.10 L44.46,326.10 L44.74,326.10 L45.03,326.10 L45.31,326.10 L45.60,326.10 L45.88,326.10 L46.17,326.10 L46.45,326.10 L46.74,326.10 L47.02,326.10 L47.31,326.10 L47.59,326.10 L47.88,326.10 L48.16,326.10 L48.45,326.10 L48.73,326.10 L49.02,326.10 L49.30,326.10 L49.59,326.10 L49.87,326.10 L50.16,326.10 L50.44,326.10 L50.73,326.10 L51.01,326.10 L51.30,326.10 L51.58,326.10 L51.87,326.10 L52.15,326.10 L52.44,326.10 L52.72,326.10 L53.01,326.10 L53.29,326.10 L53.58,326.10 L53.86,326.10 L54.15,326.10 L54.43,326.10 L54.72,326.10 L55.00,326.10 L55.29,326.10 L55.57,326.10 L55.86,326.10 L56.14,326.10 L56.43,326.10 L56.71,326.10 L57.00,326.10 L57.28,326.10 L57.57,326.10 L57.85,326.10 L58.14,326.10 L58.42,326.10 L58.71,326.10 L58.99,326.10 L59.28,326.10 L59.56,326.10 L59.85,326.10 L60.13,326.10 L60.42,326.10 L60.70,326.10 L60.99,326.10 L61.27,326.10 L61.56,326.10 L61.84,326.10 L62.13,326.10 L62.41,326.10 L62.70,326.10 L62.98,326.10 L63.27,326.10 L63.55,326.10 L63.84,326.10 L64.12,326.10 L64.41,326.10 L64.69,326.10 L64.98,326.10 L65.26,326.10 L65.55,326.10 L65.83,326.10 L66.12,326.10 L66.40,326.10 L66.69,326.10 L66.97,326.10 L67.26,326.10 L67.54,326.10 L67.83,326.10 L68.11,326.10 L68.40,326.10 L68.68,326.10 L68.97,326.10 L69.25,326.10 L69.54,326.10 L69.82,326.10 L70.11,326.10 L70.39,326.10 L70.67,326.10 L70.96,326.10 L71.24,326.10 L71.53,326.10 L71.81,326.10 L72.10,326.10 L72.38,326.10 L72.67,326.10 L72.95,326.10 L73.24,326.10 L73.52,326.10 L73.81,326.10 L74.09,326.10 L74.38,326.10 L74.66,326.10 L74.95,326.10 L75.23,326.10 L75.52,326.10 L75.80,326.10 L76.09,326.10 L76.37,326.10 L76.66,326.10 L76.94,326.10 L77.23,326.10 L77.51,326.10 L77.80,326.10 L78.08,326.10 L78.37,326.10 L78.65,326.10 L78.94,326.10 L79.22,326.10 L79.51,326.10 L79.79,326.10 L80.08,326.10 L80.36,326.10 L80.65,326.10 L80.93,326.10 L81.22,326.10 L81.50,326.10 L81.79,326.10 L82.07,326.10 L82.36,326.10 L82.64,326.10 L82.93,326.10 L83.21,326.10 L83.50,326.10 L83.78,326.10 L84.07,326.10 L84.35,326.10 L84.64,326.10 L84.92,326.10 L85.21,326.10 L85.49,326.10 L85.78,326.10 L86.06,326.10 L86.35,326.10 L86.63,326.10 L86.92,326.10 L87.20,326.10 L87.49,326.10 L87.77,326.10 L88.06,326.10 L88.34,326.10 L88.63,326.10 L88.91,326.10 L89.20,326.10 L89.48,326.10 L89.77,326.10 L90.05,326.10 L90.34,326.10 L90.62,326.10 L90.91,326.10 L91.19,326.10 L91.48,326.10 L91.76,326.10 L92.05,326.10 L92.33,326.10 L92.62,326.10 L92.90,326.10 L93.19,326.10 L93.47,326.10 L93.76,326.10 L94.04,326.10 L94.33,326.10 L94.61,326.10 L94.90,326.10 L95.18,326.10 L95.47,326.10 L95.75,326.10 L96.04,326.10 L96.32,326.10 L96.61,326.10 L96.89,326.10 L97.18,326.10 L97.46,326.10 L97.75,326.10 L98.03,326.10 L98.32,326.10 L98.60,326.10 L98.89,326.10 L99.17,326.10 L99.46,326.10 L99.74,326.10 L100.03,326.10 L100.31,326.10 L100.60,326.10 L100.88,326.10 L101.17,326.10 L101.45,326.10 L101.74,326.10 L102.02,326.10 L102.31,326.10 L102.59,326.10 L102.88,326.10 L103.16,326.05 L103.45,325.92 L103.73,325.71 L104.02,325.43 L104.30,325.07 L104.59,324.64 L104.87,324.13 L105.16,323.55 L105.44,322.89 L105.73,322.16 L106.01,321.36 L106.30,320.50 L106.58,319.56 L106.87,318.56 L107.15,317.49 L107.44,316.36 L107.72,315.16 L108.01,313.91 L108.29,312.60 L108.58,311.24 L108.86,309.82 L109.15,308.35 L109.43,306.84 L109.72,305.28 L110.00,303.67 L110.29,302.03 L110.57,300.34 L110.86,298.63 L111.14,296.88 L111.43,295.10 L111.71,293.29 L112.00,291.46 L112.28,289.62 L112.57,287.75 L112.85,285.87 L113.14,283.98 L113.42,282.08 L113.71,280.17 L113.99,278.27 L114.28,276.36 L114.56,274.46 L114.85,272.57 L115.13,270.69 L115.42,268.82 L115.70,266.97 L115.99,265.14 L116.27,263.33 L116.56,261.55 L116.84,259.79 L117.13,258.07 L117.41,256.39 L117.69,254.74 L117.98,253.13 L118.26,251.56 L118.55,250.04 L118.83,248.57 L119.12,247.14 L119.40,245.77 L119.69,244.46 L119.97,243.20 L120.26,242.00 L120.54,240.86 L120.83,239.78 L121.11,238.77 L121.40,237.83 L121.68,236.95 L121.97,236.14 L122.25,235.41 L122.54,234.74 L122.82,234.15 L123.11,233.63 L123.39,233.19 L123.68,232.82 L123.96,232.53 L124.25,232.32 L124.53,232.18 L124.82,232.12 L125.10,232.13 L125.39,232.23 L125.67,232.40 L125.96,232.65 L126.24,232.97 L126.53,233.37 L126.81,233.85 L127.10,234.40 L127.38,235.02 L127.67,235.72 L127.95,236.49 L128.24,237.32 L128.52,238.23 L128.81,239.20 L129.09,240.24 L129.38,241.35 L129.66,242.51 L129.95,243.74 L130.23,245.02 L130.52,246.36 L130.80,247.76 L131.09,249.20 L131.37,250.70 L131.66,252.24 L131.94,253.82 L132.23,255.45 L132.51,257.12 L132.80,258.82 L133.08,260.56 L133.37,262.32 L133.65,264.12 L133.94,265.93 L134.22,267.77 L134.51,269.63 L134.79,271.51 L135.08,273.39 L135.36,275.29 L135.65,277.19 L135.93,279.10 L136.22,281.00 L136.50,282.91 L136.79,284.80 L137.07,286.69 L137.36,288.57 L137.64,290.42 L137.93,292.26 L138.21,294.08 L138.50,295.88 L138.78,297.64 L139.07,299.38 L139.35,301.08 L139.64,302.75 L139.92,304.38 L140.21,305.96 L140.49,307.50 L140.78,309.00 L141.06,310.45 L141.35,311.84 L141.63,313.18 L141.92,314.46 L142.20,315.69 L142.49,316.86 L142.77,317.96 L143.06,319.00 L143.34,319.98 L143.63,320.88 L143.91,321.72 L144.20,322.49 L144.48,323.19 L144.77,323.81 L145.05,324.36 L145.34,324.84 L145.62,325.24 L145.91,325.56 L146.19,325.81 L146.48,325.98 L146.76,326.08 L147.05,326.10 L147.33,326.10 L147.62,326.10 L147.90,326.10 L148.19,326.10 L148.47,326.10 L148.76,326.10 L149.04,326.10 L149.33,326.10 L149.61,326.10 L149.90,326.10 L150.18,326.10 L150.47,326.10 L150.75,326.10 L151.04,326.10 L151.32,326.10 L151.61,326.10 L151.89,326.10 L152.18,326.10 L152.46,326.10 L152.75,326.10 L153.03,326.10 L153.32,326.10 L153.60,326.10 L153.89,326.10 L154.17,326.10 L154.46,326.10 L154.74,326.10 L155.03,326.10 L155.31,326.10 L155.60,326.10 L155.88,326.10 L156.17,326.10 L156.45,326.10 L156.74,326.10 L157.02,326.10 L157.31,326.10 L157.59,326.10 L157.88,326.10 L158.16,326.10 L158.45,326.10 L158.73,326.10 L159.02,326.10 L159.30,326.10 L159.59,326.10 L159.87,326.10 L160.16,326.10 L160.44,326.10 L160.73,326.10 L161.01,326.10 L161.30,326.10 L161.58,326.10 L161.87,326.10 L162.15,326.10 L162.44,326.10 L162.72,326.10 L163.01,326.10 L163.29,326.10 L163.58,326.10 L163.86,326.10 L164.15,326.10 L164.43,326.10 L164.72,326.10 L165.00,326.10" fill="none" stroke="#f68a68" stroke-width="0.9" stroke-dasharray="3,2"/>
<path d="M22.80,326.10 L23.08,326.10 L23.37,326.10 L23.65,326.10 L23.94,326.10 L24.22,326.10 L24.51,326.10 L24.79,326.10 L25.08,326.10 L25.36,326.10 L25.65,326.10 L25.93,326.10 L26.22,326.10 L26.50,326.10 L26.79,326.10 L27.07,326.10 L27.36,326.10 L27.64,326.10 L27.93,326.10 L28.21,326.10 L28.50,326.10 L28.78,326.10 L29.07,326.10 L29.35,326.10 L29.64,326.10 L29.92,326.10 L30.21,326.10 L30.49,326.10 L30.78,326.10 L31.06,326.10 L31.35,326.10 L31.63,326.10 L31.92,326.10 L32.20,326.10 L32.49,326.10 L32.77,326.10 L33.06,326.10 L33.34,326.10 L33.63,326.10 L33.91,326.10 L34.20,326.10 L34.48,326.10 L34.77,326.10 L35.05,326.10 L35.34,326.10 L35.62,326.10 L35.91,326.10 L36.19,326.10 L36.48,326.10 L36.76,326.10 L37.05,326.10 L37.33,326.10 L37.62,326.09 L37.90,326.07 L38.19,326.04 L38.47,326.01 L38.76,325.98 L39.04,325.93 L39.33,325.88 L39.61,325.83 L39.90,325.77 L40.18,325.71 L40.47,325.64 L40.75,325.57 L41.04,325.49 L41.32,325.41 L41.61,325.33 L41.89,325.25 L42.18,325.16 L42.46,325.08 L42.75,324.99 L43.03,324.90 L43.32,324.82 L43.60,324.73 L43.89,324.65 L44.17,324.57 L44.46,324.49 L44.74,324.42 L45.03,324.35 L45.31,324.28 L45.60,324.22 L45.88,324.16 L46.17,324.11 L46.45,324.06 L46.74,324.02 L47.02,323.98 L47.31,323.95 L47.59,323.93 L47.88,323.92 L48.16,323.91 L48.45,323.91 L48.73,323.91 L49.02,323.92 L49.30,323.94 L49.59,323.96 L49.87,324.00 L50.16,324.03 L50.44,324.08 L50.73,324.13 L51.01,324.18 L51.30,324.24 L51.58,324.30 L51.87,324.37 L52.15,324.44 L52.44,324.52 L52.72,324.60 L53.01,324.68 L53.29,324.76 L53.58,324.85 L53.86,324.94 L54.15,325.02 L54.43,325.11 L54.72,325.19 L55.00,325.28 L55.29,325.36 L55.57,325.44 L55.86,325.52 L56.14,325.59 L56.43,325.66 L56.71,325.73 L57.00,325.79 L57.28,325.85 L57.57,325.90 L57.85,325.95 L58.14,325.99 L58.42,326.02 L58.71,326.05 L58.99,326.07 L59.28,326.09 L59.56,326.10 L59.85,326.10 L60.13,326.10 L60.42,326.10 L60.70,326.10 L60.99,326.10 L61.27,326.10 L61.56,326.10 L61.84,326.10 L62.13,326.10 L62.41,326.10 L62.70,326.10 L62.98,326.10 L63.27,326.10 L63.55,326.10 L63.84,326.10 L64.12,326.10 L64.41,326.10 L64.69,326.10 L64.98,326.10 L65.26,326.10 L65.55,326.10 L65.83,326.10 L66.12,326.10 L66.40,326.10 L66.69,326.10 L66.97,326.10 L67.26,326.10 L67.54,326.10 L67.83,326.10 L68.11,326.10 L68.40,326.10 L68.68,326.10 L68.97,326.10 L69.25,326.09 L69.54,326.07 L69.82,326.03 L70.11,325.99 L70.39,325.93 L70.67,325.86 L70.96,325.79 L71.24,325.70 L71.53,325.60 L71.81,325.49 L72.10,325.37 L72.38,325.24 L72.67,325.10 L72.95,324.96 L73.24,324.81 L73.52,324.65 L73.81,324.48 L74.09,324.31 L74.38,324.14 L74.66,323.96 L74.95,323.77 L75.23,323.59 L75.52,323.40 L75.80,323.21 L76.09,323.02 L76.37,322.83 L76.66,322.65 L76.94,322.46 L77.23,322.28 L77.51,322.10 L77.80,321.92 L78.08,321.75 L78.37,321.58 L78.65,321.42 L78.94,321.27 L79.22,321.12 L79.51,320.98 L79.79,320.85 L80.08,320.73 L80.36,320.62 L80.65,320.52 L80.93,320.42 L81.22,320.34 L81.50,320.27 L81.79,320.21 L82.07,320.16 L82.36,320.13 L82.64,320.10 L82.93,320.09 L83.21,320.09 L83.50,320.10 L83.78,320.12 L84.07,320.16 L84.35,320.20 L84.64,320.26 L84.92,320.33 L85.21,320.41 L85.49,320.50 L85.78,320.60 L86.06,320.71 L86.35,320.83 L86.63,320.96 L86.92,321.10 L87.20,321.25 L87.49,321.40 L87.77,321.56 L88.06,321.72 L88.34,321.89 L88.63,322.07 L88.91,322.25 L89.20,322.43 L89.48,322.62 L89.77,322.81 L90.05,322.99 L90.34,323.18 L90.62,323.37 L90.91,323.56 L91.19,323.75 L91.48,323.93 L91.76,324.11 L92.05,324.29 L92.33,324.46 L92.62,324.62 L92.90,324.78 L93.19,324.94 L93.47,325.08 L93.76,325.22 L94.04,325.35 L94.33,325.47 L94.61,325.58 L94.90,325.68 L95.18,325.77 L95.47,325.85 L95.75,325.92 L96.04,325.98 L96.32,326.03 L96.61,326.06 L96.89,326.09 L97.18,326.10 L97.46,326.10 L97.75,326.10 L98.03,326.10 L98.32,326.10 L98.60,326.10 L98.89,326.10 L99.17,326.10 L99.46,326.10 L99.74,326.10 L100.03,326.10 L100.31,326.10 L100.60,326.10 L100.88,326.10 L101.17,326.10 L101.45,326.10 L101.74,326.10 L102.02,326.10 L102.31,326.10 L102.59,326.10 L102.88,326.10 L103.16,326.10 L103.45,326.10 L103.73,326.10 L104.02,326.10 L104.30,326.10 L104.59,326.07 L104.87,325.96 L105.16,325.79 L105.44,325.55 L105.73,325.24 L106.01,324.87 L106.30,324.42 L106.58,323.91 L106.87,323.33 L107.15,322.69 L107.44,321.98 L107.72,321.21 L108.01,320.38 L108.29,319.49 L108.58,318.54 L108.86,317.53 L109.15,316.46 L109.43,315.34 L109.72,314.17 L110.00,312.95 L110.29,311.68 L110.57,310.36 L110.86,308.99 L111.14,307.58 L111.43,306.14 L111.71,304.65 L112.00,303.12 L112.28,301.57 L112.57,299.98 L112.85,298.36 L113.14,296.72 L113.42,295.05 L113.71,293.36 L113.99,291.65 L114.28,289.93 L114.56,288.19 L114.85,286.44 L115.13,284.69 L115.42,282.92 L115.70,281.16 L115.99,279.40 L116.27,277.63 L116.56,275.88 L116.84,274.13 L117.13,272.40 L117.41,270.67 L117.69,268.97 L117.98,267.28 L118.26,265.61 L118.55,263.97 L118.83,262.36 L119.12,260.77 L119.40,259.22 L119.69,257.70 L119.97,256.22 L120.26,254.77 L120.54,253.37 L120.83,252.01 L121.11,250.69 L121.40,249.43 L121.68,248.21 L121.97,247.04 L122.25,245.93 L122.54,244.87 L122.82,243.87 L123.11,242.92 L123.39,242.03 L123.68,241.21 L123.96,240.45 L124.25,239.75 L124.53,239.11 L124.82,238.54 L125.10,238.04 L125.39,237.60 L125.67,237.23 L125.96,236.93 L126.24,236.69 L126.53,236.53 L126.81,236.43 L127.10,236.41 L127.38,236.45 L127.67,236.57 L127.95,236.75 L128.24,237.00 L128.52,237.32 L128.81,237.71 L129.09,238.16 L129.38,238.69 L129.66,239.27 L129.95,239.93 L130.23,240.64 L130.52,241.42 L130.80,242.26 L131.09,243.17 L131.37,244.13 L131.66,245.15 L131.94,246.22 L132.23,247.35 L132.51,248.53 L132.80,249.76 L133.08,251.04 L133.37,252.37 L133.65,253.74 L133.94,255.15 L134.22,256.61 L134.51,258.10 L134.79,259.63 L135.08,261.19 L135.36,262.79 L135.65,264.41 L135.93,266.06 L136.22,267.73 L136.50,269.42 L136.79,271.13 L137.07,272.86 L137.36,274.60 L137.64,276.35 L137.93,278.10 L138.21,279.87 L138.50,281.63 L138.78,283.39 L139.07,285.15 L139.35,286.91 L139.64,288.65 L139.92,290.39 L140.21,292.11 L140.49,293.81 L140.78,295.50 L141.06,297.16 L141.35,298.80 L141.63,300.41 L141.92,301.99 L142.20,303.53 L142.49,305.05 L142.77,306.52 L143.06,307.96 L143.34,309.36 L143.63,310.71 L143.91,312.02 L144.20,313.28 L144.48,314.49 L144.77,315.65 L145.05,316.75 L145.34,317.80 L145.62,318.80 L145.91,319.73 L146.19,320.61 L146.48,321.43 L146.76,322.18 L147.05,322.87 L147.33,323.49 L147.62,324.05 L147.90,324.55 L148.19,324.97 L148.47,325.33 L148.76,325.62 L149.04,325.85 L149.33,326.00 L149.61,326.08 L149.90,326.10 L150.18,326.10 L150.47,326.10 L150.75,326.10 L151.04,326.10 L151.32,326.10 L151.61,326.10 L151.89,326.10 L152.18,326.10 L152.46,326.10 L152.75,326.08 L153.03,326.03 L153.32,325.95 L153.60,325.83 L153.89,325.69 L154.17,325.52 L154.46,325.35 L154.74,325.16 L155.03,324.97 L155.31,324.79 L155.60,324.63 L155.88,324.48 L156.17,324.36 L156.45,324.27 L156.74,324.21 L157.02,324.19 L157.31,324.21 L157.59,324.26 L157.88,324.35 L158.16,324.46 L158.45,324.61 L158.73,324.77 L159.02,324.95 L159.30,325.14 L159.59,325.32 L159.87,325.50 L160.16,325.67 L160.44,325.82 L160.73,325.94 L161.01,326.03 L161.30,326.08 L161.58,326.10 L161.87,326.10 L162.15,326.10 L162.44,326.10 L162.72,326.10 L163.01,326.10 L163.29,326.10 L163.58,326.10 L163.86,326.10 L164.15,326.10 L164.43,326.10 L164.72,326.10 L165.00,326.10" fill="none" stroke="#f68a68" stroke-width="0.9"/>
<path d="M22.80,326.10 L23.08,326.10 L23.37,326.10 L23.65,326.10 L23.94,326.10 L24.22,326.10 L24.51,326.10 L24.79,326.10 L25.08,326.10 L25.36,326.10 L25.65,326.10 L25.93,326.10 L26.22,326.10 L26.50,326.10 L26.79,326.10 L27.07,326.10 L27.36,326.10 L27.64,326.10 L27.93,326.10 L28.21,326.10 L28.50,326.10 L28.78,326.10 L29.07,326.10 L29.35,326.10 L29.64,326.10 L29.92,326.10 L30.21,326.10 L30.49,326.10 L30.78,326.10 L31.06,326.10 L31.35,326.10 L31.63,326.10 L31.92,326.10 L32.20,326.10 L32.49,326.10 L32.77,326.10 L33.06,326.10 L33.34,326.10 L33.63,326.10 L33.91,326.10 L34.20,326.10 L34.48,326.10 L34.77,326.10 L35.05,326.10 L35.34,326.10 L35.62,326.10 L35.91,326.10 L36.19,326.10 L36.48,326.10 L36.76,326.10 L37.05,326.10 L37.33,326.10 L37.62,326.10 L37.90,326.10 L38.19,326.10 L38.47,326.10 L38.76,326.10 L39.04,326.10 L39.33,326.10 L39.61,326.10 L39.90,326.10 L40.18,326.10 L40.47,326.10 L40.75,326.10 L41.04,326.10 L41.32,326.10 L41.61,326.10 L41.89,326.10 L42.18,326.10 L42.46,326.10 L42.75,326.10 L43.03,326.10 L43.32,326.10 L43.60,326.10 L43.89,326.10 L44.17,326.10 L44.46,326.10 L44.74,326.10 L45.03,326.10 L45.31,326.10 L45.60,326.10 L45.88,326.10 L46.17,326.10 L46.45,326.10 L46.74,326.10 L47.02,326.10 L47.31,326.10 L47.59,326.10 L47.88,326.10 L48.16,326.10 L48.45,326.10 L48.73,326.10 L49.02,326.10 L49.30,326.10 L49.59,326.10 L49.87,326.10 L50.16,326.10 L50.44,326.10 L50.73,326.10 L51.01,326.10 L51.30,326.10 L51.58,326.10 L51.87,326.10 L52.15,326.10 L52.44,326.10 L52.72,326.10 L53.01,326.10 L53.29,326.10 L53.58,326.10 L53.86,326.10 L54.15,326.10 L54.43,326.10 L54.72,326.10 L55.00,326.10 L55.29,326.10 L55.57,326.10 L55.86,326.10 L56.14,326.10 L56.43,326.10 L56.71,326.10 L57.00,326.10 L57.28,326.10 L57.57,326.10 L57.85,326.10 L58.14,326.10 L58.42,326.10 L58.71,326.10 L58.99,326.10 L59.28,326.10 L59.56,326.10 L59.85,326.10 L60.13,326.10 L60.42,326.10 L60.70,326.10 L60.99,326.10 L61.27,326.10 L61.56,326.10 L61.84,326.10 L62.13,326.10 L62.41,326.10 L62.70,326.10 L62.98,326.10 L63.27,326.10 L63.55,326.10 L63.84,326.10 L64.12,326.10 L64.41,326.10 L64.69,326.10 L64.98,326.10 L65.26,326.10 L65.55,326.10 L65.83,326.10 L66.12,326.10 L66.40,326.10 L66.69,326.10 L66.97,326.10 L67.26,326.10 L67.54,326.10 L67.83,326.10 L68.11,326.10 L68.40,326.10 L68.68,326.10 L68.97,326.10 L69.25,326.10 L69.54,326.10 L69.82,326.10 L70.11,326.10 L70.39,326.10 L70.67,326.10 L70.96,326.10 L71.24,326.10 L71.53,326.10 L71.81,326.10 L72.10,326.10 L72.38,326.10 L72.67,326.10 L72.95,326.10 L73.24,326.10 L73.52,326.10 L73.81,326.10 L74.09,326.10 L74.38,326.10 L74.66,326.10 L74.95,326.10 L75.23,326.10 L75.52,326.10 L75.80,326.10 L76.09,326.10 L76.37,326.10 L76.66,326.10 L76.94,326.10 L77.23,326.10 L77.51,326.10 L77.80,326.10 L78.08,326.10 L78.37,326.10 L78.65,326.10 L78.94,326.10 L79.22,326.10 L79.51,326.10 L79.79,326.10 L80.08,326.10 L80.36,326.10 L80.65,326.10 L80.93,326.10 L81.22,326.10 L81.50,326.10 L81.79,326.10 L82.07,326.10 L82.36,326.10 L82.64,326.10 L82.93,326.10 L83.21,326.10 L83.50,326.10 L83.78,326.10 L84.07,326.10 L84.35,326.10 L84.64,326.10 L84.92,326.10 L85.21,326.10 L85.49,326.10 L85.78,326.10 L86.06,326.10 L86.35,326.10 L86.63,326.10 L86.92,326.10 L87.20,326.10 L87.49,326.10 L87.77,326.10 L88.06,326.10 L88.34,326.10 L88.63,326.10 L88.91,326.10 L89.20,326.10 L89.48,326.10 L89.77,326.10 L90.05,326.10 L90.34,326.10 L90.62,326.10 L90.91,326.10 L91.19,326.10 L91.48,326.10 L91.76,326.10 L92.05,326.10 L92.33,326.10 L92.62,326.10 L92.90,326.10 L93.19,326.10 L93.47,326.10 L93.76,326.10 L94.04,326.10 L94.33,326.10 L94.61,326.10 L94.90,326.10 L95.18,326.10 L95.47,326.10 L95.75,326.10 L96.04,326.10 L96.32,326.10 L96.61,326.10 L96.89,326.10 L97.18,326.10 L97.46,326.10 L97.75,326.10 L98.03,326.10 L98.32,326.10 L98.60,326.10 L98.89,326.10 L99.17,326.10 L99.46,326.10 L99.74,326.10 L100.03,326.10 L100.31,326.10 L100.60,326.10 L100.88,326.10 L101.17,326.10 L101.45,326.10 L101.74,326.10 L102.02,326.10 L102.31,326.10 L102.59,326.10 L102.88,326.10 L103.16,326.10 L103.45,326.10 L103.73,326.10 L104.02,326.10 L104.30,326.10 L104.59,326.10 L104.87,326.10 L105.16,326.10 L105.44,326.10 L105.73,326.10 L106.01,326.10 L106.30,326.10 L106.58,326.10 L106.87,326.10 L107.15,326.10 L107.44,326.10 L107.72,326.10 L108.01,326.10 L108.29,326.10 L108.58,326.10 L108.86,326.10 L109.15,326.10 L109.43,326.10 L109.72,326.10 L110.00,326.10 L110.29,326.10 L110.57,326.10 L110.86,326.10 L111.14,326.10 L111.43,326.10 L111.71,326.10 L112.00,326.10 L112.28,326.10 L112.57,326.10 L112.85,326.10 L113.14,326.10 L113.42,326.10 L113.71,326.10 L113.99,326.10 L114.28,326.10 L114.56,326.10 L114.85,326.10 L115.13,326.10 L115.42,326.10 L115.70,326.10 L115.99,326.10 L116.27,326.10 L116.56,326.10 L116.84,326.10 L117.13,326.10 L117.41,326.10 L117.69,326.10 L117.98,326.10 L118.26,326.10 L118.55,326.10 L118.83,326.10 L119.12,326.10 L119.40,326.10 L119.69,326.10 L119.97,326.10 L120.26,326.10 L120.54,326.10 L120.83,326.10 L121.11,326.10 L121.40,326.10 L121.68,326.10 L121.97,326.10 L122.25,326.10 L122.54,326.10 L122.82,326.10 L123.11,326.10 L123.39,326.10 L123.68,326.10 L123.96,326.10 L124.25,326.10 L124.53,326.10 L124.82,326.10 L125.10,326.10 L125.39,326.10 L125.67,326.10 L125.96,326.10 L126.24,326.10 L126.53,326.10 L126.81,326.10 L127.10,326.10 L127.38,326.10 L127.67,326.10 L127.95,326.08 L128.24,325.98 L128.52,325.81 L128.81,325.56 L129.09,325.23 L129.38,324.83 L129.66,324.35 L129.95,323.79 L130.23,323.16 L130.52,322.46 L130.80,321.69 L131.09,320.85 L131.37,319.93 L131.66,318.95 L131.94,317.91 L132.23,316.80 L132.51,315.62 L132.80,314.39 L133.08,313.10 L133.37,311.75 L133.65,310.35 L133.94,308.90 L134.22,307.39 L134.51,305.84 L134.79,304.25 L135.08,302.61 L135.36,300.94 L135.65,299.22 L135.93,297.48 L136.22,295.70 L136.50,293.90 L136.79,292.07 L137.07,290.22 L137.36,288.35 L137.64,286.47 L137.93,284.57 L138.21,282.67 L138.50,280.75 L138.78,278.84 L139.07,276.92 L139.35,275.01 L139.64,273.11 L139.92,271.21 L140.21,269.33 L140.49,267.46 L140.78,265.61 L141.06,263.78 L141.35,261.98 L141.63,260.20 L141.92,258.46 L142.20,256.75 L142.49,255.07 L142.77,253.44 L143.06,251.85 L143.34,250.30 L143.63,248.80 L143.91,247.34 L144.20,245.94 L144.48,244.60 L144.77,243.31 L145.05,242.08 L145.34,240.90 L145.62,239.80 L145.91,238.75 L146.19,237.77 L146.48,236.86 L146.76,236.02 L147.05,235.25 L147.33,234.55 L147.62,233.93 L147.90,233.37 L148.19,232.90 L148.47,232.50 L148.76,232.17 L149.04,231.92 L149.33,231.75 L149.61,231.66 L149.90,231.64 L150.18,231.70 L150.47,231.84 L150.75,232.06 L151.04,232.35 L151.32,232.72 L151.61,233.17 L151.89,233.69 L152.18,234.29 L152.46,234.95 L152.75,235.70 L153.03,236.51 L153.32,237.39 L153.60,238.34 L153.89,239.36 L154.17,240.44 L154.46,241.58 L154.74,242.79 L155.03,244.06 L155.31,245.38 L155.60,246.76 L155.88,248.19 L156.17,249.67 L156.45,251.20 L156.74,252.77 L157.02,254.39 L157.31,256.05 L157.59,257.75 L157.88,259.48 L158.16,261.24 L158.45,263.03 L158.73,264.85 L159.02,266.69 L159.30,268.55 L159.59,270.43 L159.87,272.32 L160.16,274.22 L160.44,276.13 L160.73,278.05 L161.01,279.96 L161.30,281.88 L161.58,283.79 L161.87,285.69 L162.15,287.58 L162.44,289.45 L162.72,291.31 L163.01,293.15 L163.29,294.96 L163.58,296.75 L163.86,298.51 L164.15,300.23 L164.43,301.92 L164.72,303.58 L165.00,305.19" fill="none" stroke="#e8352c" stroke-width="0.9" stroke-dasharray="3,2"/>
<path d="M22.80,319.75 L23.08,319.61 L23.37,319.50 L23.65,319.44 L23.94,319.42 L24.22,319.44 L24.51,319.51 L24.79,319.61 L25.08,319.75 L25.36,319.94 L25.65,320.15 L25.93,320.40 L26.22,320.69 L26.50,320.99 L26.79,321.32 L27.07,321.67 L27.36,322.03 L27.64,322.40 L27.93,322.77 L28.21,323.15 L28.50,323.52 L28.78,323.88 L29.07,324.22 L29.35,324.55 L29.64,324.86 L29.92,325.14 L30.21,325.38 L30.49,325.60 L30.78,325.78 L31.06,325.92 L31.35,326.02 L31.63,326.08 L31.92,326.10 L32.20,326.10 L32.49,326.10 L32.77,326.10 L33.06,326.10 L33.34,326.10 L33.63,326.10 L33.91,326.10 L34.20,326.10 L34.48,326.10 L34.77,326.10 L35.05,326.10 L35.34,326.10 L35.62,326.10 L35.91,326.10 L36.19,326.10 L36.48,326.10 L36.76,326.10 L37.05,326.10 L37.33,326.10 L37.62,326.10 L37.90,326.10 L38.19,326.10 L38.47,326.10 L38.76,326.10 L39.04,326.10 L39.33,326.10 L39.61,326.10 L39.90,326.10 L40.18,326.10 L40.47,326.10 L40.75,326.10 L41.04,326.10 L41.32,326.10 L41.61,326.10 L41.89,326.10 L42.18,326.10 L42.46,326.10 L42.75,326.10 L43.03,326.10 L43.32,326.10 L43.60,326.10 L43.89,326.10 L44.17,326.10 L44.46,326.10 L44.74,326.10 L45.03,326.10 L45.31,326.10 L45.60,326.10 L45.88,326.10 L46.17,326.10 L46.45,326.10 L46.74,326.10 L47.02,326.10 L47.31,326.10 L47.59,326.10 L47.88,326.10 L48.16,326.10 L48.45,326.10 L48.73,326.10 L49.02,326.10 L49.30,326.10 L49.59,326.10 L49.87,326.10 L50.16,326.10 L50.44,326.10 L50.73,326.10 L51.01,326.10 L51.30,326.10 L51.58,326.10 L51.87,326.10 L52.15,326.10 L52.44,326.10 L52.72,326.10 L53.01,326.10 L53.29,326.10 L53.58,326.10 L53.86,326.10 L54.15,326.10 L54.43,326.10 L54.72,326.10 L55.00,326.10 L55.29,326.10 L55.57,326.10 L55.86,326.10 L56.14,326.10 L56.43,326.10 L56.71,326.10 L57.00,326.10 L57.28,326.10 L57.57,326.10 L57.85,326.10 L58.14,326.10 L58.42,326.10 L58.71,326.10 L58.99,326.10 L59.28,326.10 L59.56,326.10 L59.85,326.10 L60.13,326.09 L60.42,326.07 L60.70,326.03 L60.99,325.98 L61.27,325.91 L61.56,325.84 L61.84,325.75 L62.13,325.65 L62.41,325.53 L62.70,325.41 L62.98,325.28 L63.27,325.14 L63.55,324.99 L63.84,324.83 L64.12,324.66 L64.41,324.49 L64.69,324.31 L64.98,324.13 L65.26,323.94 L65.55,323.75 L65.83,323.56 L66.12,323.37 L66.40,323.18 L66.69,322.99 L66.97,322.80 L67.26,322.62 L67.54,322.44 L67.83,322.26 L68.11,322.09 L68.40,321.93 L68.68,321.78 L68.97,321.63 L69.25,321.50 L69.54,321.37 L69.82,321.25 L70.11,321.15 L70.39,321.05 L70.67,320.97 L70.96,320.90 L71.24,320.85 L71.53,320.80 L71.81,320.78 L72.10,320.76 L72.38,320.76 L72.67,320.77 L72.95,320.79 L73.24,320.83 L73.52,320.88 L73.81,320.95 L74.09,321.03 L74.38,321.12 L74.66,321.22 L74.95,321.33 L75.23,321.46 L75.52,321.59 L75.80,321.73 L76.09,321.89 L76.37,322.04 L76.66,322.21 L76.94,322.38 L77.23,322.56 L77.51,322.75 L77.80,322.93 L78.08,323.12 L78.37,323.31 L78.65,323.50 L78.94,323.69 L79.22,323.88 L79.51,324.07 L79.79,324.25 L80.08,324.43 L80.36,324.61 L80.65,324.78 L80.93,324.94 L81.22,325.09 L81.50,325.24 L81.79,325.37 L82.07,325.50 L82.36,325.61 L82.64,325.72 L82.93,325.81 L83.21,325.89 L83.50,325.96 L83.78,326.01 L84.07,326.06 L84.35,326.08 L84.64,326.10 L84.92,326.10 L85.21,326.10 L85.49,326.10 L85.78,326.10 L86.06,326.10 L86.35,326.10 L86.63,326.10 L86.92,326.10 L87.20,326.10 L87.49,326.10 L87.77,326.10 L88.06,326.10 L88.34,326.10 L88.63,326.10 L88.91,326.10 L89.20,326.10 L89.48,326.10 L89.77,326.10 L90.05,326.10 L90.34,326.10 L90.62,326.10 L90.91,326.10 L91.19,326.10 L91.48,326.10 L91.76,326.10 L92.05,326.10 L92.33,326.10 L92.62,326.10 L92.90,326.10 L93.19,326.10 L93.47,326.10 L93.76,326.10 L94.04,326.10 L94.33,326.10 L94.61,326.10 L94.90,326.10 L95.18,326.10 L95.47,326.10 L95.75,326.10 L96.04,326.09 L96.32,326.06 L96.61,326.02 L96.89,325.97 L97.18,325.91 L97.46,325.83 L97.75,325.74 L98.03,325.65 L98.32,325.54 L98.60,325.42 L98.89,325.29 L99.17,325.15 L99.46,325.01 L99.74,324.86 L100.03,324.70 L100.31,324.53 L100.60,324.36 L100.88,324.19 L101.17,324.01 L101.45,323.83 L101.74,323.65 L102.02,323.47 L102.31,323.29 L102.59,323.11 L102.88,322.94 L103.16,322.76 L103.45,322.59 L103.73,322.43 L104.02,322.27 L104.30,322.12 L104.59,321.97 L104.87,321.84 L105.16,321.71 L105.44,321.59 L105.73,321.49 L106.01,321.39 L106.30,321.30 L106.58,321.23 L106.87,321.17 L107.15,321.12 L107.44,321.08 L107.72,321.06 L108.01,321.04 L108.29,321.05 L108.58,321.06 L108.86,321.09 L109.15,321.13 L109.43,321.18 L109.72,321.24 L110.00,321.32 L110.29,321.41 L110.57,321.51 L110.86,321.62 L111.14,321.74 L111.43,321.86 L111.71,322.00 L112.00,322.15 L112.28,322.30 L112.57,322.46 L112.85,322.63 L113.14,322.80 L113.42,322.97 L113.71,323.15 L113.99,323.33 L114.28,323.51 L114.56,323.69 L114.85,323.87 L115.13,324.05 L115.42,324.22 L115.70,324.40 L115.99,324.56 L116.27,324.73 L116.56,324.89 L116.84,325.04 L117.13,325.18 L117.41,325.32 L117.69,325.44 L117.98,325.56 L118.26,325.67 L118.55,325.76 L118.83,325.85 L119.12,325.92 L119.40,325.98 L119.69,326.03 L119.97,326.07 L120.26,326.09 L120.54,326.10 L120.83,326.10 L121.11,326.10 L121.40,326.10 L121.68,326.10 L121.97,326.10 L122.25,326.10 L122.54,326.10 L122.82,326.10 L123.11,326.10 L123.39,326.10 L123.68,326.10 L123.96,326.10 L124.25,326.10 L124.53,326.10 L124.82,326.10 L125.10,326.10 L125.39,326.10 L125.67,326.10 L125.96,326.10 L126.24,326.10 L126.53,326.10 L126.81,326.10 L127.10,326.10 L127.38,326.06 L127.67,325.95 L127.95,325.77 L128.24,325.53 L128.52,325.22 L128.81,324.85 L129.09,324.41 L129.38,323.90 L129.66,323.34 L129.95,322.71 L130.23,322.01 L130.52,321.26 L130.80,320.45 L131.09,319.58 L131.37,318.65 L131.66,317.67 L131.94,316.63 L132.23,315.54 L132.51,314.41 L132.80,313.22 L133.08,311.98 L133.37,310.70 L133.65,309.38 L133.94,308.01 L134.22,306.61 L134.51,305.17 L134.79,303.69 L135.08,302.19 L135.36,300.65 L135.65,299.08 L135.93,297.49 L136.22,295.88 L136.50,294.25 L136.79,292.60 L137.07,290.93 L137.36,289.25 L137.64,287.56 L137.93,285.87 L138.21,284.17 L138.50,282.47 L138.78,280.76 L139.07,279.06 L139.35,277.37 L139.64,275.69 L139.92,274.01 L140.21,272.35 L140.49,270.71 L140.78,269.09 L141.06,267.48 L141.35,265.90 L141.63,264.35 L141.92,262.82 L142.20,261.33 L142.49,259.87 L142.77,258.45 L143.06,257.06 L143.34,255.71 L143.63,254.40 L143.91,253.14 L144.20,251.93 L144.48,250.76 L144.77,249.64 L145.05,248.58 L145.34,247.56 L145.62,246.60 L145.91,245.70 L146.19,244.85 L146.48,244.07 L146.76,243.34 L147.05,242.68 L147.33,242.07 L147.62,241.53 L147.90,241.06 L148.19,240.64 L148.47,240.30 L148.76,240.02 L149.04,239.80 L149.33,239.65 L149.61,239.57 L149.90,239.56 L150.18,239.61 L150.47,239.73 L150.75,239.92 L151.04,240.17 L151.32,240.49 L151.61,240.88 L151.89,241.33 L152.18,241.84 L152.46,242.42 L152.75,243.06 L153.03,243.76 L153.32,244.52 L153.60,245.34 L153.89,246.22 L154.17,247.16 L154.46,248.15 L154.74,249.19 L155.03,250.29 L155.31,251.44 L155.60,252.63 L155.88,253.88 L156.17,255.17 L156.45,256.50 L156.74,257.87 L157.02,259.28 L157.31,260.72 L157.59,262.20 L157.88,263.72 L158.16,265.26 L158.45,266.83 L158.73,268.42 L159.02,270.04 L159.30,271.67 L159.59,273.33 L159.87,274.99 L160.16,276.67 L160.44,278.36 L160.73,280.06 L161.01,281.76 L161.30,283.46 L161.58,285.17 L161.87,286.86 L162.15,288.56 L162.44,290.24 L162.72,291.91 L163.01,293.57 L163.29,295.21 L163.58,296.83 L163.86,298.43 L164.15,300.00 L164.43,301.55 L164.72,303.07 L165.00,304.56" fill="none" stroke="#e8352c" stroke-width="0.9"/>
</g>
<rect x="22.8" y="211.6" width="142.2" height="114.50000000000003" fill="none" stroke="#3a3a3a" stroke-width="0.75"/>
<line x1="22.80" y1="326.10" x2="24.80" y2="326.10" stroke="#3a3a3a" stroke-width="0.6"/>
<text x="20.8" y="328.5" font-size="7.1" text-anchor="end" font-weight="normal" font-style="normal" fill="#111" font-family='"Liberation Sans", sans-serif' stroke="#111" stroke-width="0.12">0.0</text>
<line x1="22.80" y1="307.02" x2="24.80" y2="307.02" stroke="#3a3a3a" stroke-width="0.6"/>
<text x="20.8" y="309.4166666666667" font-size="7.1" text-anchor="end" font-weight="normal" font-style="normal" fill="#111" font-family='"Liberation Sans", sans-serif' stroke="#111" stroke-width="0.12">0.2</text>
<line x1="22.80" y1="287.93" x2="24.80" y2="287.93" stroke="#3a3a3a" stroke-width="0.6"/>
<text x="20.8" y="290.3333333333333" font-size="7.1" text-anchor="end" font-weight="normal" font-style="normal" fill="#111" font-family='"Liberation Sans", sans-serif' stroke="#111" stroke-width="0.12">0.4</text>
<line x1="22.80" y1="268.85" x2="24.80" y2="268.85" stroke="#3a3a3a" stroke-width="0.6"/>
<text x="20.8" y="271.25" font-size="7.1" text-anchor="end" font-weight="normal" font-style="normal" fill="#111" font-family='"Liberation Sans", sans-serif' stroke="#111" stroke-width="0.12">0.6</text>
<line x1="22.80" y1="249.77" x2="24.80" y2="249.77" stroke="#3a3a3a" stroke-width="0.6"/>
<text x="20.8" y="252.16666666666666" font-size="7.1" text-anchor="end" font-weight="normal" font-style="normal" fill="#111" font-family='"Liberation Sans", sans-serif' stroke="#111" stroke-width="0.12">0.8</text>
<line x1="22.80" y1="230.68" x2="24.80" y2="230.68" stroke="#3a3a3a" stroke-width="0.6"/>
<text x="20.8" y="233.08333333333334" font-size="7.1" text-anchor="end" font-weight="normal" font-style="normal" fill="#111" font-family='"Liberation Sans", sans-serif' stroke="#111" stroke-width="0.12">1.0</text>
<line x1="22.80" y1="211.60" x2="24.80" y2="211.60" stroke="#3a3a3a" stroke-width="0.6"/>
<text x="20.8" y="214.0" font-size="7.1" text-anchor="end" font-weight="normal" font-style="normal" fill="#111" font-family='"Liberation Sans", sans-serif' stroke="#111" stroke-width="0.12">1.2</text>
<line x1="22.80" y1="316.56" x2="24.00" y2="316.56" stroke="#3a3a3a" stroke-width="0.5"/>
<line x1="22.80" y1="297.48" x2="24.00" y2="297.48" stroke="#3a3a3a" stroke-width="0.5"/>
<line x1="22.80" y1="278.39" x2="24.00" y2="278.39" stroke="#3a3a3a" stroke-width="0.5"/>
<line x1="22.80" y1="259.31" x2="24.00" y2="259.31" stroke="#3a3a3a" stroke-width="0.5"/>
<line x1="22.80" y1="240.22" x2="24.00" y2="240.22" stroke="#3a3a3a" stroke-width="0.5"/>
<line x1="22.80" y1="221.14" x2="24.00" y2="221.14" stroke="#3a3a3a" stroke-width="0.5"/>
<line x1="22.80" y1="326.10" x2="22.80" y2="324.10" stroke="#3a3a3a" stroke-width="0.6"/>
<text x="22.8" y="333.4" font-size="7.1" text-anchor="middle" font-weight="normal" font-style="normal" fill="#111" font-family='"Liberation Sans", sans-serif' stroke="#111" stroke-width="0.12">0.30</text>
<line x1="51.24" y1="326.10" x2="51.24" y2="324.10" stroke="#3a3a3a" stroke-width="0.6"/>
<text x="51.239999999999995" y="333.4" font-size="7.1" text-anchor="middle" font-weight="normal" font-style="normal" fill="#111" font-family='"Liberation Sans", sans-serif' stroke="#111" stroke-width="0.12">0.35</text>
<line x1="79.68" y1="326.10" x2="79.68" y2="324.10" stroke="#3a3a3a" stroke-width="0.6"/>
<text x="79.68000000000002" y="333.4" font-size="7.1" text-anchor="middle" font-weight="normal" font-style="normal" fill="#111" font-family='"Liberation Sans", sans-serif' stroke="#111" stroke-width="0.12">0.40</text>
<line x1="108.12" y1="326.10" x2="108.12" y2="324.10" stroke="#3a3a3a" stroke-width="0.6"/>
<text x="108.12" y="333.4" font-size="7.1" text-anchor="middle" font-weight="normal" font-style="normal" fill="#111" font-family='"Liberation Sans", sans-serif' stroke="#111" stroke-width="0.12">0.45</text>
<line x1="136.56" y1="326.10" x2="136.56" y2="324.10" stroke="#3a3a3a" stroke-width="0.6"/>
<text x="136.56" y="333.4" font-size="7.1" text-anchor="middle" font-weight="normal" font-style="normal" fill="#111" font-family='"Liberation Sans", sans-serif' stroke="#111" stroke-width="0.12">0.50</text>
<line x1="165.00" y1="326.10" x2="165.00" y2="324.10" stroke="#3a3a3a" stroke-width="0.6"/>
<text x="165.00000000000003" y="333.4" font-size="7.1" text-anchor="middle" font-weight="normal" font-style="normal" fill="#111" font-family='"Liberation Sans", sans-serif' stroke="#111" stroke-width="0.12">0.55</text>
<line x1="37.02" y1="326.10" x2="37.02" y2="324.90" stroke="#3a3a3a" stroke-width="0.5"/>
<line x1="65.46" y1="326.10" x2="65.46" y2="324.90" stroke="#3a3a3a" stroke-width="0.5"/>
<line x1="93.90" y1="326.10" x2="93.90" y2="324.90" stroke="#3a3a3a" stroke-width="0.5"/>
<line x1="122.34" y1="326.10" x2="122.34" y2="324.90" stroke="#3a3a3a" stroke-width="0.5"/>
<line x1="150.78" y1="326.10" x2="150.78" y2="324.90" stroke="#3a3a3a" stroke-width="0.5"/>
<text x="66.7" y="343.1" font-size="8.4" text-anchor="start" font-weight="normal" font-style="normal" fill="#111" font-family='"Liberation Sans", sans-serif' textLength="53" lengthAdjust="spacingAndGlyphs" stroke="#111" stroke-width="0.12">Frequency (THz)</text>
<text x="0" y="0" font-size="7.7" fill="#111" font-family='"Liberation Sans", sans-serif' stroke="#111" stroke-width="0.12" transform="translate(7.9,292.0) rotate(-90)" textLength="47.6" lengthAdjust="spacingAndGlyphs">Transimission</text>
<rect x="103.5" y="212.5" width="60.1" height="17.5" fill="#fff" stroke="#a8a8a8" stroke-width="0.6"/>
<line x1="104.5" y1="217.1" x2="116.4" y2="217.1" stroke="#222" stroke-width="1" stroke-dasharray="3.5,4.9"/>
<line x1="104.5" y1="225.7" x2="119.9" y2="225.7" stroke="#111" stroke-width="1"/>
<text x="122" y="218.9" font-size="6.6" text-anchor="start" font-weight="normal" font-style="normal" fill="#111" font-family='"Liberation Sans", sans-serif' textLength="21.7" lengthAdjust="spacingAndGlyphs" stroke="#111" stroke-width="0.12">Original</text>
<text x="122" y="227.4" font-size="6.6" text-anchor="start" font-weight="normal" font-style="normal" fill="#111" font-family='"Liberation Sans", sans-serif' textLength="40.4" lengthAdjust="spacingAndGlyphs" stroke="#111" stroke-width="0.12">Reconstructed</text>
<line x1="54.4" y1="272" x2="54.4" y2="284.7" stroke="#111" stroke-width="0.7" stroke-dasharray="1.8,1.2"/>
<line x1="74.7" y1="272" x2="74.7" y2="284.7" stroke="#111" stroke-width="0.7" stroke-dasharray="1.8,1.2"/>
<line x1="56" y1="278.7" x2="73" y2="278.7" stroke="#111" stroke-width="0.85"/>
<path d="M54.6,278.7 L58.2,276.9 L58.2,280.5 Z M74.5,278.7 L70.9,276.9 L70.9,280.5 Z" fill="#111"/>
<text x="53.8" y="299.6" font-size="7.8" text-anchor="start" font-weight="normal" font-style="normal" fill="#111" font-family='"Liberation Sans", sans-serif' textLength="29" lengthAdjust="spacingAndGlyphs" stroke="#111" stroke-width="0.12">0.03 THz</text>
<text x="172.0" y="220.8" font-size="13.6" text-anchor="start" font-weight="bold" font-style="normal" fill="#000" font-family='"Liberation Sans", sans-serif' stroke="#000" stroke-width="0.35">c</text>
<clipPath id="cpc"><rect x="190" y="205" width="153.9" height="130"/></clipPath><g clip-path="url(#cpc)">
<circle cx="201.9" cy="244.5" r="2.1" fill="none" stroke="#dd2a2a" stroke-width="0.9"/>
<circle cx="213.5" cy="249.3" r="2.1" fill="none" stroke="#dd2a2a" stroke-width="0.9"/>
<circle cx="225.2" cy="251.5" r="2.1" fill="none" stroke="#dd2a2a" stroke-width="0.9"/>
<circle cx="237" cy="265" r="2.1" fill="none" stroke="#dd2a2a" stroke-width="0.9"/>
<circle cx="248.7" cy="253.5" r="2.1" fill="none" stroke="#dd2a2a" stroke-width="0.9"/>
<circle cx="260.4" cy="254.1" r="2.1" fill="none" stroke="#dd2a2a" stroke-width="0.9"/>
<circle cx="272.4" cy="262" r="2.1" fill="none" stroke="#dd2a2a" stroke-width="0.9"/>
<circle cx="283.9" cy="221.1" r="2.1" fill="none" stroke="#dd2a2a" stroke-width="0.9"/>
<circle cx="295.9" cy="257.2" r="2.1" fill="none" stroke="#dd2a2a" stroke-width="0.9"/>
<circle cx="307.6" cy="265.4" r="2.1" fill="none" stroke="#dd2a2a" stroke-width="0.9"/>
<circle cx="319.3" cy="246.3" r="2.1" fill="none" stroke="#dd2a2a" stroke-width="0.9"/>
<circle cx="331.1" cy="249.6" r="2.1" fill="none" stroke="#dd2a2a" stroke-width="0.9"/>
<circle cx="342.6" cy="250.4" r="2.1" fill="none" stroke="#dd2a2a" stroke-width="0.9"/>
<rect x="199.7" y="312.7" width="4" height="4" fill="none" stroke="#2a5a9c" stroke-width="0.9"/>
<rect x="211.1" y="310.3" width="4" height="4" fill="none" stroke="#2a5a9c" stroke-width="0.9"/>
<rect x="223" y="308.9" width="4" height="4" fill="none" stroke="#2a5a9c" stroke-width="0.9"/>
<rect x="235" y="285.7" width="4" height="4" fill="none" stroke="#2a5a9c" stroke-width="0.9"/>
<rect x="246.9" y="306.8" width="4" height="4" fill="none" stroke="#2a5a9c" stroke-width="0.9"/>
<rect x="258.6" y="305.9" width="4" height="4" fill="none" stroke="#2a5a9c" stroke-width="0.9"/>
<rect x="269.9" y="297.3" width="4" height="4" fill="none" stroke="#2a5a9c" stroke-width="0.9"/>
<rect x="282" y="315.6" width="4" height="4" fill="none" stroke="#2a5a9c" stroke-width="0.9"/>
<rect x="293.8" y="302.9" width="4" height="4" fill="none" stroke="#2a5a9c" stroke-width="0.9"/>
<rect x="305.9" y="271.3" width="4" height="4" fill="none" stroke="#2a5a9c" stroke-width="0.9"/>
<rect x="317.5" y="308.0" width="4" height="4" fill="none" stroke="#2a5a9c" stroke-width="0.9"/>
<rect x="329.1" y="306.3" width="4" height="4" fill="none" stroke="#2a5a9c" stroke-width="0.9"/>
<rect x="340.7" y="306.1" width="4" height="4" fill="none" stroke="#2a5a9c" stroke-width="0.9"/>
</g>
<rect x="195.6" y="211.4" width="147.9" height="115.79999999999998" fill="none" stroke="#3a3a3a" stroke-width="0.75"/>
<line x1="195.60" y1="269.20" x2="343.50" y2="269.20" stroke="#222" stroke-width="0.9"/>
<line x1="195.60" y1="265.00" x2="197.60" y2="265.00" stroke="#3a3a3a" stroke-width="0.6"/>
<text x="193.0" y="267.5" font-size="7.1" text-anchor="end" font-weight="normal" font-style="normal" fill="#111" font-family='"Liberation Sans", sans-serif' stroke="#111" stroke-width="0.12">0</text>
<line x1="195.60" y1="250.63" x2="197.60" y2="250.63" stroke="#3a3a3a" stroke-width="0.6"/>
<text x="193.0" y="253.13333333333333" font-size="7.1" text-anchor="end" font-weight="normal" font-style="normal" fill="#111" font-family='"Liberation Sans", sans-serif' stroke="#111" stroke-width="0.12">4</text>
<line x1="195.60" y1="236.27" x2="197.60" y2="236.27" stroke="#3a3a3a" stroke-width="0.6"/>
<text x="193.0" y="238.76666666666668" font-size="7.1" text-anchor="end" font-weight="normal" font-style="normal" fill="#111" font-family='"Liberation Sans", sans-serif' stroke="#111" stroke-width="0.12">8</text>
<line x1="195.60" y1="221.90" x2="197.60" y2="221.90" stroke="#3a3a3a" stroke-width="0.6"/>
<text x="193.0" y="224.4" font-size="7.1" text-anchor="end" font-weight="normal" font-style="normal" fill="#111" font-family='"Liberation Sans", sans-serif' stroke="#111" stroke-width="0.12">12</text>
<line x1="195.60" y1="257.82" x2="196.80" y2="257.82" stroke="#3a3a3a" stroke-width="0.5"/>
<line x1="195.60" y1="243.45" x2="196.80" y2="243.45" stroke="#3a3a3a" stroke-width="0.5"/>
<line x1="195.60" y1="229.08" x2="196.80" y2="229.08" stroke="#3a3a3a" stroke-width="0.5"/>
<line x1="195.60" y1="214.72" x2="196.80" y2="214.72" stroke="#3a3a3a" stroke-width="0.5"/>
<line x1="195.60" y1="327.20" x2="197.60" y2="327.20" stroke="#3a3a3a" stroke-width="0.6"/>
<text x="190.9" y="329.8" font-size="6.8" text-anchor="end" font-weight="normal" font-style="normal" fill="#111" font-family='"Liberation Sans", sans-serif' textLength="7.2" lengthAdjust="spacingAndGlyphs" stroke="#111" stroke-width="0.12">10</text>
<text x="191.3" y="326.30" font-size="4.6" fill="#111" font-family='"Liberation Sans", sans-serif'>1</text>
<line x1="195.60" y1="321.93" x2="196.70" y2="321.93" stroke="#3a3a3a" stroke-width="0.45"/>
<line x1="195.60" y1="318.85" x2="196.70" y2="318.85" stroke="#3a3a3a" stroke-width="0.45"/>
<line x1="195.60" y1="316.66" x2="196.70" y2="316.66" stroke="#3a3a3a" stroke-width="0.45"/>
<line x1="195.60" y1="314.97" x2="196.70" y2="314.97" stroke="#3a3a3a" stroke-width="0.45"/>
<line x1="195.60" y1="313.58" x2="196.70" y2="313.58" stroke="#3a3a3a" stroke-width="0.45"/>
<line x1="195.60" y1="312.41" x2="196.70" y2="312.41" stroke="#3a3a3a" stroke-width="0.45"/>
<line x1="195.60" y1="311.40" x2="196.70" y2="311.40" stroke="#3a3a3a" stroke-width="0.45"/>
<line x1="195.60" y1="310.50" x2="196.70" y2="310.50" stroke="#3a3a3a" stroke-width="0.45"/>
<line x1="195.60" y1="309.70" x2="197.60" y2="309.70" stroke="#3a3a3a" stroke-width="0.6"/>
<text x="190.9" y="312.3" font-size="6.8" text-anchor="end" font-weight="normal" font-style="normal" fill="#111" font-family='"Liberation Sans", sans-serif' textLength="7.2" lengthAdjust="spacingAndGlyphs" stroke="#111" stroke-width="0.12">10</text>
<text x="191.3" y="308.80" font-size="4.6" fill="#111" font-family='"Liberation Sans", sans-serif'>2</text>
<line x1="195.60" y1="304.43" x2="196.70" y2="304.43" stroke="#3a3a3a" stroke-width="0.45"/>
<line x1="195.60" y1="301.35" x2="196.70" y2="301.35" stroke="#3a3a3a" stroke-width="0.45"/>
<line x1="195.60" y1="299.16" x2="196.70" y2="299.16" stroke="#3a3a3a" stroke-width="0.45"/>
<line x1="195.60" y1="297.47" x2="196.70" y2="297.47" stroke="#3a3a3a" stroke-width="0.45"/>
<line x1="195.60" y1="296.08" x2="196.70" y2="296.08" stroke="#3a3a3a" stroke-width="0.45"/>
<line x1="195.60" y1="294.91" x2="196.70" y2="294.91" stroke="#3a3a3a" stroke-width="0.45"/>
<line x1="195.60" y1="293.90" x2="196.70" y2="293.90" stroke="#3a3a3a" stroke-width="0.45"/>
<line x1="195.60" y1="293.00" x2="196.70" y2="293.00" stroke="#3a3a3a" stroke-width="0.45"/>
<line x1="195.60" y1="292.20" x2="197.60" y2="292.20" stroke="#3a3a3a" stroke-width="0.6"/>
<text x="190.9" y="294.8" font-size="6.8" text-anchor="end" font-weight="normal" font-style="normal" fill="#111" font-family='"Liberation Sans", sans-serif' textLength="7.2" lengthAdjust="spacingAndGlyphs" stroke="#111" stroke-width="0.12">10</text>
<text x="191.3" y="291.30" font-size="4.6" fill="#111" font-family='"Liberation Sans", sans-serif'>3</text>
<line x1="195.60" y1="286.93" x2="196.70" y2="286.93" stroke="#3a3a3a" stroke-width="0.45"/>
<line x1="195.60" y1="283.85" x2="196.70" y2="283.85" stroke="#3a3a3a" stroke-width="0.45"/>
<line x1="195.60" y1="281.66" x2="196.70" y2="281.66" stroke="#3a3a3a" stroke-width="0.45"/>
<line x1="195.60" y1="279.97" x2="196.70" y2="279.97" stroke="#3a3a3a" stroke-width="0.45"/>
<line x1="195.60" y1="278.58" x2="196.70" y2="278.58" stroke="#3a3a3a" stroke-width="0.45"/>
<line x1="195.60" y1="277.41" x2="196.70" y2="277.41" stroke="#3a3a3a" stroke-width="0.45"/>
<line x1="195.60" y1="276.40" x2="196.70" y2="276.40" stroke="#3a3a3a" stroke-width="0.45"/>
<line x1="195.60" y1="275.50" x2="196.70" y2="275.50" stroke="#3a3a3a" stroke-width="0.45"/>
<line x1="195.60" y1="274.70" x2="197.60" y2="274.70" stroke="#3a3a3a" stroke-width="0.6"/>
<text x="190.9" y="277.3" font-size="6.8" text-anchor="end" font-weight="normal" font-style="normal" fill="#111" font-family='"Liberation Sans", sans-serif' textLength="7.2" lengthAdjust="spacingAndGlyphs" stroke="#111" stroke-width="0.12">10</text>
<text x="191.3" y="273.80" font-size="4.6" fill="#111" font-family='"Liberation Sans", sans-serif'>4</text>
<line x1="195.60" y1="327.20" x2="195.60" y2="325.20" stroke="#3a3a3a" stroke-width="0.6"/>
<text x="195.6" y="334.6" font-size="7.1" text-anchor="middle" font-weight="normal" font-style="normal" fill="#111" font-family='"Liberation Sans", sans-serif' stroke="#111" stroke-width="0.12">0.30</text>
<line x1="225.18" y1="327.20" x2="225.18" y2="325.20" stroke="#3a3a3a" stroke-width="0.6"/>
<text x="225.17999999999998" y="334.6" font-size="7.1" text-anchor="middle" font-weight="normal" font-style="normal" fill="#111" font-family='"Liberation Sans", sans-serif' stroke="#111" stroke-width="0.12">0.35</text>
<line x1="254.76" y1="327.20" x2="254.76" y2="325.20" stroke="#3a3a3a" stroke-width="0.6"/>
<text x="254.76000000000002" y="334.6" font-size="7.1" text-anchor="middle" font-weight="normal" font-style="normal" fill="#111" font-family='"Liberation Sans", sans-serif' stroke="#111" stroke-width="0.12">0.40</text>
<line x1="284.34" y1="327.20" x2="284.34" y2="325.20" stroke="#3a3a3a" stroke-width="0.6"/>
<text x="284.34000000000003" y="334.6" font-size="7.1" text-anchor="middle" font-weight="normal" font-style="normal" fill="#111" font-family='"Liberation Sans", sans-serif' stroke="#111" stroke-width="0.12">0.45</text>
<line x1="313.92" y1="327.20" x2="313.92" y2="325.20" stroke="#3a3a3a" stroke-width="0.6"/>
<text x="313.92" y="334.6" font-size="7.1" text-anchor="middle" font-weight="normal" font-style="normal" fill="#111" font-family='"Liberation Sans", sans-serif' stroke="#111" stroke-width="0.12">0.50</text>
<line x1="343.50" y1="327.20" x2="343.50" y2="325.20" stroke="#3a3a3a" stroke-width="0.6"/>
<text x="343.5" y="334.6" font-size="7.1" text-anchor="middle" font-weight="normal" font-style="normal" fill="#111" font-family='"Liberation Sans", sans-serif' stroke="#111" stroke-width="0.12">0.55</text>
<line x1="210.39" y1="327.20" x2="210.39" y2="326.00" stroke="#3a3a3a" stroke-width="0.5"/>
<line x1="239.97" y1="327.20" x2="239.97" y2="326.00" stroke="#3a3a3a" stroke-width="0.5"/>
<line x1="269.55" y1="327.20" x2="269.55" y2="326.00" stroke="#3a3a3a" stroke-width="0.5"/>
<line x1="299.13" y1="327.20" x2="299.13" y2="326.00" stroke="#3a3a3a" stroke-width="0.5"/>
<line x1="328.71" y1="327.20" x2="328.71" y2="326.00" stroke="#3a3a3a" stroke-width="0.5"/>
<text x="242.8" y="343.1" font-size="8.4" text-anchor="start" font-weight="normal" font-style="normal" fill="#111" font-family='"Liberation Sans", sans-serif' textLength="52.2" lengthAdjust="spacingAndGlyphs" stroke="#111" stroke-width="0.12">Frequency (THz)</text>
<text x="0" y="0" font-size="8.2" fill="#111" font-family='"Liberation Sans", sans-serif' stroke="#111" stroke-width="0.12" transform="translate(184.4,255.6) rotate(-90)" textLength="31.4" lengthAdjust="spacingAndGlyphs">Δ<tspan font-style="italic">f</tspan> (GHz)</text>
<text x="0" y="0" font-size="7.3" fill="#111" font-family='"Liberation Sans", sans-serif' stroke="#111" stroke-width="0.12" transform="translate(178.8,323.8) rotate(-90)" textLength="51.3" lengthAdjust="spacingAndGlyphs">Resolving power</text>
<text x="350.2" y="219.6" font-size="14.4" text-anchor="start" font-weight="bold" font-style="normal" fill="#000" font-family='"Liberation Sans", sans-serif' stroke="#000" stroke-width="0.35">d</text>
<path d="M369.70,260.07 L370.19,259.85 L370.69,259.62 L371.18,259.39 L371.68,259.15 L372.17,258.91 L372.66,258.67 L373.16,258.42 L373.65,258.17 L374.15,257.91 L374.64,257.65 L375.13,257.39 L375.63,257.12 L376.12,256.85 L376.62,256.57 L377.11,256.29 L377.60,256.01 L378.10,255.72 L378.59,255.43 L379.09,255.14 L379.58,254.84 L380.07,254.53 L380.57,254.23 L381.06,253.92 L381.56,253.60 L382.05,253.28 L382.54,252.96 L383.04,252.64 L383.53,252.31 L384.03,251.98 L384.52,251.64 L385.01,251.30 L385.51,250.96 L386.00,250.62 L386.50,250.27 L386.99,249.92 L387.48,249.56 L387.98,249.20 L388.47,248.84 L388.97,248.48 L389.46,248.12 L389.95,247.75 L390.45,247.38 L390.94,247.00 L391.44,246.63 L391.93,246.25 L392.42,245.87 L392.92,245.49 L393.41,245.11 L393.91,244.72 L394.40,244.33 L394.89,243.95 L395.39,243.56 L395.88,243.17 L396.37,242.77 L396.87,242.38 L397.36,241.99 L397.86,241.59 L398.35,241.20 L398.84,240.80 L399.34,240.41 L399.83,240.01 L400.33,239.61 L400.82,239.22 L401.31,238.82 L401.81,238.43 L402.30,238.03 L402.80,237.64 L403.29,237.25 L403.78,236.86 L404.28,236.47 L404.77,236.08 L405.27,235.69 L405.76,235.30 L406.25,234.92 L406.75,234.54 L407.24,234.16 L407.74,233.78 L408.23,233.41 L408.72,233.04 L409.22,232.67 L409.71,232.30 L410.21,231.94 L410.70,231.58 L411.19,231.22 L411.69,230.87 L412.18,230.52 L412.68,230.18 L413.17,229.84 L413.66,229.51 L414.16,229.18 L414.65,228.85 L415.15,228.53 L415.64,228.21 L416.13,227.90 L416.63,227.60 L417.12,227.30 L417.62,227.01 L418.11,226.72 L418.60,226.44 L419.10,226.16 L419.59,225.89 L420.09,225.63 L420.58,225.37 L421.07,225.12 L421.57,224.88 L422.06,224.64 L422.56,224.41 L423.05,224.19 L423.54,223.98 L424.04,223.77 L424.53,223.57 L425.03,223.38 L425.52,223.20 L426.01,223.02 L426.51,222.85 L427.00,222.69 L427.50,222.54 L427.99,222.40 L428.48,222.26 L428.98,222.14 L429.47,222.02 L429.97,221.91 L430.46,221.81 L430.95,221.71 L431.45,221.63 L431.94,221.55 L432.44,221.49 L432.93,221.43 L433.42,221.38 L433.92,221.34 L434.41,221.31 L434.91,221.29 L435.40,221.28 L435.89,221.27 L436.39,221.28 L436.88,221.29 L437.38,221.31 L437.87,221.35 L438.36,221.39 L438.86,221.44 L439.35,221.49 L439.85,221.56 L440.34,221.64 L440.83,221.72 L441.33,221.81 L441.82,221.92 L442.32,222.03 L442.81,222.15 L443.30,222.27 L443.80,222.41 L444.29,222.55 L444.78,222.71 L445.28,222.87 L445.77,223.04 L446.27,223.21 L446.76,223.40 L447.25,223.59 L447.75,223.79 L448.24,224.00 L448.74,224.21 L449.23,224.44 L449.72,224.66 L450.22,224.90 L450.71,225.15 L451.21,225.40 L451.70,225.65 L452.19,225.92 L452.69,226.19 L453.18,226.46 L453.68,226.75 L454.17,227.03 L454.66,227.33 L455.16,227.63 L455.65,227.93 L456.15,228.24 L456.64,228.56 L457.13,228.88 L457.63,229.21 L458.12,229.54 L458.62,229.87 L459.11,230.21 L459.60,230.56 L460.10,230.91 L460.59,231.26 L461.09,231.61 L461.58,231.97 L462.07,232.34 L462.57,232.70 L463.06,233.07 L463.56,233.44 L464.05,233.82 L464.54,234.19 L465.04,234.57 L465.53,234.96 L466.03,235.34 L466.52,235.73 L467.01,236.11 L467.51,236.50 L468.00,236.89 L468.50,237.29 L468.99,237.68 L469.48,238.07 L469.98,238.47 L470.47,238.86 L470.97,239.26 L471.46,239.65 L471.95,240.05 L472.45,240.44 L472.94,240.84 L473.44,241.24 L473.93,241.63 L474.42,242.03 L474.92,242.42 L475.41,242.81 L475.91,243.20 L476.40,243.59 L476.89,243.98 L477.39,244.37 L477.88,244.76 L478.38,245.14 L478.87,245.53 L479.36,245.91 L479.86,246.29 L480.35,246.66 L480.85,247.04 L481.34,247.41 L481.83,247.78 L482.33,248.15 L482.82,248.52 L483.32,248.88 L483.81,249.24 L484.30,249.60 L484.80,249.95 L485.29,250.30 L485.79,250.65 L486.28,250.99 L486.77,251.34 L487.27,251.67 L487.76,252.01 L488.26,252.34 L488.75,252.67 L489.24,252.99 L489.74,253.31 L490.23,253.63 L490.73,253.95 L491.22,254.26 L491.71,254.56 L492.21,254.86 L492.70,255.16 L493.19,255.46 L493.69,255.75 L494.18,256.04 L494.68,256.32 L495.17,256.60 L495.66,256.88 L496.16,257.15 L496.65,257.41 L497.15,257.68 L497.64,257.94 L498.13,258.19 L498.63,258.44 L499.12,258.69 L499.62,258.94 L500.11,259.18 L500.60,259.41 L501.10,259.64 L501.59,259.87 L502.09,260.09 L502.58,260.31 L503.07,260.53 L503.57,260.74 L504.06,260.95 L504.56,261.15 L505.05,261.35 L505.54,261.55 L506.04,261.74 L506.53,261.93 L507.03,262.12 L507.52,262.30 L508.01,262.48 L508.51,262.65 L509.00,262.82 L509.50,262.99 L509.99,263.15 L510.48,263.31 L510.98,263.47 L511.47,263.62 L511.97,263.77 L512.46,263.92 L512.95,264.06 L513.45,264.21 L513.94,264.34 L514.44,264.48 L514.93,264.61 L515.42,264.73 L515.92,264.86 L516.41,264.98 L516.91,265.10 L517.40,265.21" fill="none" stroke="#5aa6dc" stroke-width="0.9" stroke-dasharray="3,2"/>
<path d="M369.70,259.81 L370.19,259.63 L370.69,259.45 L371.18,259.29 L371.68,259.12 L372.17,258.96 L372.66,258.78 L373.16,258.60 L373.65,258.40 L374.15,258.18 L374.64,257.94 L375.13,257.68 L375.63,257.40 L376.12,257.09 L376.62,256.77 L377.11,256.43 L377.60,256.08 L378.10,255.72 L378.59,255.35 L379.09,254.99 L379.58,254.63 L380.07,254.28 L380.57,253.95 L381.06,253.62 L381.56,253.32 L382.05,253.02 L382.54,252.74 L383.04,252.47 L383.53,252.20 L384.03,251.94 L384.52,251.68 L385.01,251.41 L385.51,251.13 L386.00,250.84 L386.50,250.53 L386.99,250.20 L387.48,249.85 L387.98,249.48 L388.47,249.09 L388.97,248.68 L389.46,248.25 L389.95,247.82 L390.45,247.38 L390.94,246.93 L391.44,246.49 L391.93,246.05 L392.42,245.62 L392.92,245.21 L393.41,244.82 L393.91,244.43 L394.40,244.07 L394.89,243.72 L395.39,243.39 L395.88,243.06 L396.37,242.74 L396.87,242.42 L397.36,242.09 L397.86,241.76 L398.35,241.42 L398.84,241.07 L399.34,240.69 L399.83,240.30 L400.33,239.89 L400.82,239.47 L401.31,239.02 L401.81,238.57 L402.30,238.11 L402.80,237.64 L403.29,237.18 L403.78,236.72 L404.28,236.27 L404.77,235.83 L405.27,235.41 L405.76,235.01 L406.25,234.63 L406.75,234.27 L407.24,233.93 L407.74,233.61 L408.23,233.30 L408.72,232.99 L409.22,232.70 L409.71,232.40 L410.21,232.11 L410.70,231.80 L411.19,231.49 L411.69,231.16 L412.18,230.82 L412.68,230.46 L413.17,230.09 L413.66,229.71 L414.16,229.32 L414.65,228.93 L415.15,228.54 L415.64,228.15 L416.13,227.77 L416.63,227.40 L417.12,227.06 L417.62,226.73 L418.11,226.43 L418.60,226.15 L419.10,225.89 L419.59,225.66 L420.09,225.45 L420.58,225.26 L421.07,225.08 L421.57,224.91 L422.06,224.74 L422.56,224.58 L423.05,224.41 L423.54,224.24 L424.04,224.06 L424.53,223.86 L425.03,223.66 L425.52,223.45 L426.01,223.23 L426.51,223.00 L427.00,222.77 L427.50,222.55 L427.99,222.33 L428.48,222.13 L428.98,221.94 L429.47,221.78 L429.97,221.63 L430.46,221.52 L430.95,221.42 L431.45,221.36 L431.94,221.32 L432.44,221.31 L432.93,221.31 L433.42,221.33 L433.92,221.37 L434.41,221.41 L434.91,221.45 L435.40,221.49 L435.89,221.53 L436.39,221.56 L436.88,221.58 L437.38,221.59 L437.87,221.60 L438.36,221.59 L438.86,221.59 L439.35,221.58 L439.85,221.57 L440.34,221.58 L440.83,221.59 L441.33,221.63 L441.82,221.68 L442.32,221.75 L442.81,221.86 L443.30,221.99 L443.80,222.14 L444.29,222.32 L444.78,222.52 L445.28,222.75 L445.77,222.99 L446.27,223.24 L446.76,223.49 L447.25,223.75 L447.75,224.00 L448.24,224.25 L448.74,224.50 L449.23,224.73 L449.72,224.95 L450.22,225.16 L450.71,225.36 L451.21,225.55 L451.70,225.74 L452.19,225.93 L452.69,226.13 L453.18,226.34 L453.68,226.56 L454.17,226.80 L454.66,227.06 L455.16,227.34 L455.65,227.64 L456.15,227.97 L456.64,228.32 L457.13,228.70 L457.63,229.08 L458.12,229.48 L458.62,229.89 L459.11,230.30 L459.60,230.71 L460.10,231.12 L460.59,231.51 L461.09,231.90 L461.58,232.26 L462.07,232.62 L462.57,232.96 L463.06,233.28 L463.56,233.60 L464.05,233.91 L464.54,234.22 L465.04,234.52 L465.53,234.83 L466.03,235.16 L466.52,235.49 L467.01,235.84 L467.51,236.21 L468.00,236.60 L468.50,237.01 L468.99,237.44 L469.48,237.88 L469.98,238.34 L470.47,238.80 L470.97,239.27 L471.46,239.74 L471.95,240.20 L472.45,240.65 L472.94,241.09 L473.44,241.52 L473.93,241.92 L474.42,242.31 L474.92,242.68 L475.41,243.03 L475.91,243.36 L476.40,243.69 L476.89,244.01 L477.39,244.32 L477.88,244.64 L478.38,244.96 L478.87,245.29 L479.36,245.64 L479.86,246.00 L480.35,246.37 L480.85,246.77 L481.34,247.17 L481.83,247.59 L482.33,248.02 L482.82,248.45 L483.32,248.89 L483.81,249.32 L484.30,249.75 L484.80,250.16 L485.29,250.55 L485.79,250.93 L486.28,251.29 L486.77,251.62 L487.27,251.93 L487.76,252.23 L488.26,252.50 L488.75,252.77 L489.24,253.02 L489.74,253.27 L490.23,253.52 L490.73,253.77 L491.22,254.03 L491.71,254.30 L492.21,254.58 L492.70,254.87 L493.19,255.18 L493.69,255.51 L494.18,255.84 L494.68,256.19 L495.17,256.53 L495.66,256.88 L496.16,257.23 L496.65,257.56 L497.15,257.88 L497.64,258.19 L498.13,258.47 L498.63,258.74 L499.12,258.98 L499.62,259.20 L500.11,259.40 L500.60,259.58 L501.10,259.74 L501.59,259.90 L502.09,260.05 L502.58,260.20 L503.07,260.35 L503.57,260.51 L504.06,260.68 L504.56,260.87 L505.05,261.06 L505.54,261.28 L506.04,261.50 L506.53,261.74 L507.03,261.98 L507.52,262.23 L508.01,262.48 L508.51,262.73 L509.00,262.97 L509.50,263.19 L509.99,263.40 L510.48,263.59 L510.98,263.76 L511.47,263.91 L511.97,264.04 L512.46,264.14 L512.95,264.23 L513.45,264.31 L513.94,264.38 L514.44,264.44 L514.93,264.50 L515.42,264.56 L515.92,264.63 L516.41,264.72 L516.91,264.81 L517.40,264.92" fill="none" stroke="#5aa6dc" stroke-width="0.9"/>
<clipPath id="cpd"><rect x="369.7" y="269.2" width="147.7" height="57.7"/></clipPath><g clip-path="url(#cpd)">
<path d="M369.70,323.10 C370.17,322.92 371.45,322.00 372.50,322.00 C373.55,322.00 374.65,322.37 376.00,323.10 C377.35,323.83 379.27,325.72 380.60,326.40 C381.93,327.08 382.45,327.20 384.00,327.20 C385.55,327.20 388.33,327.20 389.90,326.40 C391.47,325.60 392.25,324.80 393.40,322.40 C394.55,320.00 395.45,316.25 396.80,312.00 C398.15,307.75 399.95,301.53 401.50,296.90 C403.05,292.27 404.57,287.17 406.10,284.20 C407.63,281.23 409.35,279.50 410.70,279.10 C412.05,278.70 412.83,279.42 414.20,281.80 C415.57,284.18 417.35,290.10 418.90,293.40 C420.45,296.70 422.15,300.23 423.50,301.60 C424.85,302.97 425.92,301.93 427.00,301.60 C428.08,301.27 428.73,301.35 430.00,299.60 C431.27,297.85 432.87,294.07 434.60,291.10 C436.33,288.13 438.65,282.57 440.40,281.80 C442.15,281.03 443.55,283.40 445.10,286.50 C446.65,289.60 448.15,295.77 449.70,300.40 C451.25,305.03 452.85,310.63 454.40,314.30 C455.95,317.97 457.27,320.47 459.00,322.40 C460.73,324.33 462.87,325.17 464.80,325.90 C466.73,326.63 468.67,326.58 470.60,326.80 C472.53,327.02 474.27,327.20 476.40,327.20 C478.53,327.20 481.47,326.93 483.40,326.80 C485.33,326.67 486.47,326.85 488.00,326.40 C489.53,325.95 491.05,324.10 492.60,324.10 C494.15,324.10 495.37,325.88 497.30,326.40 C499.23,326.92 501.88,327.13 504.20,327.20 C506.52,327.27 509.07,327.10 511.20,326.80 C513.33,326.50 516.03,325.63 517.00,325.40" fill="none" stroke="#f4805c" stroke-width="0.9"/>
<path d="M370.30,323.10 C370.77,322.92 372.05,322.00 373.10,322.00 C374.15,322.00 375.25,322.37 376.60,323.10 C377.95,323.83 379.87,325.72 381.20,326.40 C382.53,327.08 383.05,327.20 384.60,327.20 C386.15,327.20 388.93,327.20 390.50,326.40 C392.07,325.60 392.85,324.93 394.00,322.40 C395.15,319.87 396.05,315.58 397.40,311.20 C398.75,306.82 400.55,300.73 402.10,296.10 C403.65,291.47 405.17,286.37 406.70,283.40 C408.23,280.43 409.95,278.70 411.30,278.30 C412.65,277.90 413.43,278.62 414.80,281.00 C416.17,283.38 417.95,289.30 419.50,292.60 C421.05,295.90 422.75,299.43 424.10,300.80 C425.45,302.17 426.52,301.13 427.60,300.80 C428.68,300.47 429.33,300.55 430.60,298.80 C431.87,297.05 433.47,293.27 435.20,290.30 C436.93,287.33 439.25,281.77 441.00,281.00 C442.75,280.23 444.15,282.60 445.70,285.70 C447.25,288.80 448.75,294.97 450.30,299.60 C451.85,304.23 453.45,309.70 455.00,313.50 C456.55,317.30 457.87,320.33 459.60,322.40 C461.33,324.47 463.47,325.17 465.40,325.90 C467.33,326.63 469.27,326.58 471.20,326.80 C473.13,327.02 474.87,327.20 477.00,327.20 C479.13,327.20 482.07,326.93 484.00,326.80 C485.93,326.67 487.07,326.85 488.60,326.40 C490.13,325.95 491.65,324.10 493.20,324.10 C494.75,324.10 495.97,325.88 497.90,326.40 C499.83,326.92 502.48,327.13 504.80,327.20 C507.12,327.27 509.67,327.10 511.80,326.80 C513.93,326.50 516.63,325.63 517.60,325.40" fill="none" stroke="#f4805c" stroke-width="0.9" stroke-dasharray="3,2" opacity="0.9"/>
</g>
<rect x="369.7" y="211.5" width="147.7" height="115.39999999999998" fill="none" stroke="#3a3a3a" stroke-width="0.75"/>
<line x1="369.70" y1="269.20" x2="517.40" y2="269.20" stroke="#222" stroke-width="0.9"/>
<line x1="369.70" y1="268.90" x2="371.70" y2="268.90" stroke="#3a3a3a" stroke-width="0.6"/>
<text x="367.3" y="271.4" font-size="7.1" text-anchor="end" font-weight="normal" font-style="normal" fill="#111" font-family='"Liberation Sans", sans-serif' stroke="#111" stroke-width="0.12">0.0</text>
<line x1="369.70" y1="326.90" x2="371.70" y2="326.90" stroke="#3a3a3a" stroke-width="0.6"/>
<text x="367.3" y="329.4" font-size="7.1" text-anchor="end" font-weight="normal" font-style="normal" fill="#111" font-family='"Liberation Sans", sans-serif' stroke="#111" stroke-width="0.12">0.0</text>
<line x1="369.70" y1="249.46" x2="371.70" y2="249.46" stroke="#3a3a3a" stroke-width="0.6"/>
<text x="367.3" y="251.95999999999998" font-size="7.1" text-anchor="end" font-weight="normal" font-style="normal" fill="#111" font-family='"Liberation Sans", sans-serif' stroke="#111" stroke-width="0.12">0.4</text>
<line x1="369.70" y1="307.30" x2="371.70" y2="307.30" stroke="#3a3a3a" stroke-width="0.6"/>
<text x="367.3" y="309.79999999999995" font-size="7.1" text-anchor="end" font-weight="normal" font-style="normal" fill="#111" font-family='"Liberation Sans", sans-serif' stroke="#111" stroke-width="0.12">0.4</text>
<line x1="369.70" y1="230.02" x2="371.70" y2="230.02" stroke="#3a3a3a" stroke-width="0.6"/>
<text x="367.3" y="232.51999999999998" font-size="7.1" text-anchor="end" font-weight="normal" font-style="normal" fill="#111" font-family='"Liberation Sans", sans-serif' stroke="#111" stroke-width="0.12">0.8</text>
<line x1="369.70" y1="287.70" x2="371.70" y2="287.70" stroke="#3a3a3a" stroke-width="0.6"/>
<text x="367.3" y="290.2" font-size="7.1" text-anchor="end" font-weight="normal" font-style="normal" fill="#111" font-family='"Liberation Sans", sans-serif' stroke="#111" stroke-width="0.12">0.8</text>
<line x1="369.70" y1="259.18" x2="370.90" y2="259.18" stroke="#3a3a3a" stroke-width="0.5"/>
<line x1="369.70" y1="317.10" x2="370.90" y2="317.10" stroke="#3a3a3a" stroke-width="0.5"/>
<line x1="369.70" y1="239.74" x2="370.90" y2="239.74" stroke="#3a3a3a" stroke-width="0.5"/>
<line x1="369.70" y1="297.50" x2="370.90" y2="297.50" stroke="#3a3a3a" stroke-width="0.5"/>
<line x1="369.70" y1="220.30" x2="370.90" y2="220.30" stroke="#3a3a3a" stroke-width="0.5"/>
<line x1="369.70" y1="277.90" x2="370.90" y2="277.90" stroke="#3a3a3a" stroke-width="0.5"/>
<line x1="369.70" y1="326.90" x2="369.70" y2="324.90" stroke="#3a3a3a" stroke-width="0.6"/>
<text x="369.7" y="334.6" font-size="7.1" text-anchor="middle" font-weight="normal" font-style="normal" fill="#111" font-family='"Liberation Sans", sans-serif' stroke="#111" stroke-width="0.12">0.30</text>
<line x1="399.24" y1="326.90" x2="399.24" y2="324.90" stroke="#3a3a3a" stroke-width="0.6"/>
<text x="399.24" y="334.6" font-size="7.1" text-anchor="middle" font-weight="normal" font-style="normal" fill="#111" font-family='"Liberation Sans", sans-serif' stroke="#111" stroke-width="0.12">0.35</text>
<line x1="428.78" y1="326.90" x2="428.78" y2="324.90" stroke="#3a3a3a" stroke-width="0.6"/>
<text x="428.78" y="334.6" font-size="7.1" text-anchor="middle" font-weight="normal" font-style="normal" fill="#111" font-family='"Liberation Sans", sans-serif' stroke="#111" stroke-width="0.12">0.40</text>
<line x1="458.32" y1="326.90" x2="458.32" y2="324.90" stroke="#3a3a3a" stroke-width="0.6"/>
<text x="458.32" y="334.6" font-size="7.1" text-anchor="middle" font-weight="normal" font-style="normal" fill="#111" font-family='"Liberation Sans", sans-serif' stroke="#111" stroke-width="0.12">0.45</text>
<line x1="487.86" y1="326.90" x2="487.86" y2="324.90" stroke="#3a3a3a" stroke-width="0.6"/>
<text x="487.86" y="334.6" font-size="7.1" text-anchor="middle" font-weight="normal" font-style="normal" fill="#111" font-family='"Liberation Sans", sans-serif' stroke="#111" stroke-width="0.12">0.50</text>
<line x1="517.40" y1="326.90" x2="517.40" y2="324.90" stroke="#3a3a3a" stroke-width="0.6"/>
<text x="517.4" y="334.6" font-size="7.1" text-anchor="middle" font-weight="normal" font-style="normal" fill="#111" font-family='"Liberation Sans", sans-serif' stroke="#111" stroke-width="0.12">0.55</text>
<line x1="384.47" y1="326.90" x2="384.47" y2="325.70" stroke="#3a3a3a" stroke-width="0.5"/>
<line x1="414.01" y1="326.90" x2="414.01" y2="325.70" stroke="#3a3a3a" stroke-width="0.5"/>
<line x1="443.55" y1="326.90" x2="443.55" y2="325.70" stroke="#3a3a3a" stroke-width="0.5"/>
<line x1="473.09" y1="326.90" x2="473.09" y2="325.70" stroke="#3a3a3a" stroke-width="0.5"/>
<line x1="502.63" y1="326.90" x2="502.63" y2="325.70" stroke="#3a3a3a" stroke-width="0.5"/>
<text x="416.8" y="343.1" font-size="8.4" text-anchor="start" font-weight="normal" font-style="normal" fill="#111" font-family='"Liberation Sans", sans-serif' textLength="52.2" lengthAdjust="spacingAndGlyphs" stroke="#111" stroke-width="0.12">Frequency (THz)</text>
<text x="0" y="0" font-size="7.3" fill="#111" font-family='"Liberation Sans", sans-serif' stroke="#111" stroke-width="0.12" transform="translate(356.4,288.6) rotate(-90)" textLength="39.2" lengthAdjust="spacingAndGlyphs">Transimission</text>
<rect x="458.3" y="212.8" width="56.5" height="17.1" fill="#fff" stroke="#a8a8a8" stroke-width="0.6"/>
<line x1="459.2" y1="217.2" x2="471.2" y2="217.2" stroke="#111" stroke-width="1" stroke-dasharray="3.4,5.2"/>
<line x1="459.2" y1="225.1" x2="473.2" y2="225.1" stroke="#111" stroke-width="1"/>
<text x="475.5" y="219.8" font-size="6.4" text-anchor="start" font-weight="normal" font-style="normal" fill="#111" font-family='"Liberation Sans", sans-serif' textLength="20" lengthAdjust="spacingAndGlyphs" stroke="#111" stroke-width="0.12">Original</text>
<text x="475.5" y="227.6" font-size="6.4" text-anchor="start" font-weight="normal" font-style="normal" fill="#111" font-family='"Liberation Sans", sans-serif' textLength="38.5" lengthAdjust="spacingAndGlyphs" stroke="#111" stroke-width="0.12">Reconstructed</text>
<line x1="410.7" y1="277.8" x2="410.7" y2="312.5" stroke="#111" stroke-width="0.7" stroke-dasharray="1.8,1.2"/>
<line x1="439.3" y1="276.6" x2="439.3" y2="312.5" stroke="#111" stroke-width="0.7" stroke-dasharray="1.8,1.2"/>
<line x1="412" y1="306.3" x2="438" y2="306.3" stroke="#111" stroke-width="0.8"/>
<path d="M410.9,306.3 L414.4,304.5 L414.4,308.1 Z M439.1,306.3 L435.6,304.5 L435.6,308.1 Z" fill="#111"/>
<text x="411" y="320.7" font-size="7.4" text-anchor="start" font-weight="normal" font-style="normal" fill="#111" font-family='"Liberation Sans", sans-serif' textLength="28.8" lengthAdjust="spacingAndGlyphs" stroke="#111" stroke-width="0.12">0.05 THz</text>
<text x="522.0" y="220.8" font-size="14.5" text-anchor="start" font-weight="bold" font-style="normal" fill="#000" font-family='"Liberation Sans", sans-serif' stroke="#000" stroke-width="0.35">e</text>
<rect x="544.40" y="309.07" width="11.6" height="17.53" fill="#2a6db4"/>
<rect x="556.00" y="304.04" width="11.7" height="22.56" fill="#fb8b6c"/>
<text x="556.0" y="333.8" font-size="7.1" text-anchor="middle" font-weight="normal" font-style="normal" fill="#111" font-family='"Liberation Sans", sans-serif' stroke="#111" stroke-width="0.12">5</text>
<line x1="556.00" y1="326.60" x2="556.00" y2="324.60" stroke="#3a3a3a" stroke-width="0.6"/>
<rect x="573.00" y="292.12" width="11.6" height="34.48" fill="#2a6db4"/>
<rect x="584.60" y="283.50" width="11.7" height="43.10" fill="#fb8b6c"/>
<text x="584.6" y="333.8" font-size="7.1" text-anchor="middle" font-weight="normal" font-style="normal" fill="#111" font-family='"Liberation Sans", sans-serif' stroke="#111" stroke-width="0.12">10</text>
<line x1="584.60" y1="326.60" x2="584.60" y2="324.60" stroke="#3a3a3a" stroke-width="0.6"/>
<rect x="601.50" y="275.31" width="11.6" height="51.29" fill="#2a6db4"/>
<rect x="613.10" y="259.08" width="11.7" height="67.52" fill="#fb8b6c"/>
<text x="613.1" y="333.8" font-size="7.1" text-anchor="middle" font-weight="normal" font-style="normal" fill="#111" font-family='"Liberation Sans", sans-serif' stroke="#111" stroke-width="0.12">15</text>
<line x1="613.10" y1="326.60" x2="613.10" y2="324.60" stroke="#3a3a3a" stroke-width="0.6"/>
<rect x="630.10" y="242.56" width="11.6" height="84.05" fill="#2a6db4"/>
<rect x="641.70" y="244.28" width="11.7" height="82.32" fill="#fb8b6c"/>
<text x="641.7" y="333.8" font-size="7.1" text-anchor="middle" font-weight="normal" font-style="normal" fill="#111" font-family='"Liberation Sans", sans-serif' stroke="#111" stroke-width="0.12">20</text>
<line x1="641.70" y1="326.60" x2="641.70" y2="324.60" stroke="#3a3a3a" stroke-width="0.6"/>
<rect x="658.40" y="250.31" width="11.6" height="76.29" fill="#2a6db4"/>
<rect x="670.00" y="239.25" width="11.7" height="87.35" fill="#fb8b6c"/>
<text x="670.0" y="333.8" font-size="7.1" text-anchor="middle" font-weight="normal" font-style="normal" fill="#111" font-family='"Liberation Sans", sans-serif' stroke="#111" stroke-width="0.12">25</text>
<line x1="670.00" y1="326.60" x2="670.00" y2="324.60" stroke="#3a3a3a" stroke-width="0.6"/>
<line x1="541.50" y1="283.50" x2="684.20" y2="283.50" stroke="#333" stroke-width="0.7" stroke-dasharray="1.2,1.2"/>
<rect x="541.5" y="211.5" width="142.70000000000005" height="115.10000000000002" fill="none" stroke="#3a3a3a" stroke-width="0.75"/>
<line x1="541.50" y1="326.60" x2="543.50" y2="326.60" stroke="#3a3a3a" stroke-width="0.6"/>
<text x="538.9" y="329.1" font-size="7.1" text-anchor="end" font-weight="normal" font-style="normal" fill="#111" font-family='"Liberation Sans", sans-serif' stroke="#111" stroke-width="0.12">0</text>
<line x1="541.50" y1="283.50" x2="543.50" y2="283.50" stroke="#3a3a3a" stroke-width="0.6"/>
<text x="538.9" y="286.0" font-size="7.1" text-anchor="end" font-weight="normal" font-style="normal" fill="#111" font-family='"Liberation Sans", sans-serif' stroke="#111" stroke-width="0.12">30</text>
<line x1="541.50" y1="240.40" x2="543.50" y2="240.40" stroke="#3a3a3a" stroke-width="0.6"/>
<text x="538.9" y="242.9" font-size="7.1" text-anchor="end" font-weight="normal" font-style="normal" fill="#111" font-family='"Liberation Sans", sans-serif' stroke="#111" stroke-width="0.12">60</text>
<line x1="541.50" y1="305.05" x2="542.70" y2="305.05" stroke="#3a3a3a" stroke-width="0.5"/>
<line x1="541.50" y1="261.95" x2="542.70" y2="261.95" stroke="#3a3a3a" stroke-width="0.5"/>
<line x1="541.50" y1="218.85" x2="542.70" y2="218.85" stroke="#3a3a3a" stroke-width="0.5"/>
<text x="571.4" y="342.8" font-size="8.0" text-anchor="start" font-weight="normal" font-style="normal" fill="#111" font-family='"Liberation Sans", sans-serif' textLength="81.3" lengthAdjust="spacingAndGlyphs" stroke="#111" stroke-width="0.12">Number of Measurements</text>
<text x="0" y="0" font-size="7.0" fill="#111" font-family='"Liberation Sans", sans-serif' stroke="#111" stroke-width="0.12" transform="translate(530.2,284.3) rotate(-90)" textLength="31.3" lengthAdjust="spacingAndGlyphs">PSNR (dB)</text>
<rect x="548.6" y="215.1" width="61.8" height="17.3" fill="#fff" stroke="#a8a8a8" stroke-width="0.6"/>
<rect x="549.2" y="215.9" width="15.7" height="7.5" fill="#2a6db4"/>
<rect x="549.2" y="223.9" width="15.7" height="8.0" fill="#fb8b6c"/>
<text x="566.7" y="222.0" font-size="7.0" text-anchor="start" font-weight="normal" font-style="normal" fill="#111" font-family='"Liberation Sans", sans-serif' textLength="43.2" lengthAdjust="spacingAndGlyphs" stroke="#111" stroke-width="0.12">frequency-shift</text>
<text x="566.7" y="230.4" font-size="7.0" text-anchor="start" font-weight="normal" font-style="normal" fill="#111" font-family='"Liberation Sans", sans-serif' textLength="40.3" lengthAdjust="spacingAndGlyphs" stroke="#111" stroke-width="0.12">mode-change</text>
</svg>
</body></html>
